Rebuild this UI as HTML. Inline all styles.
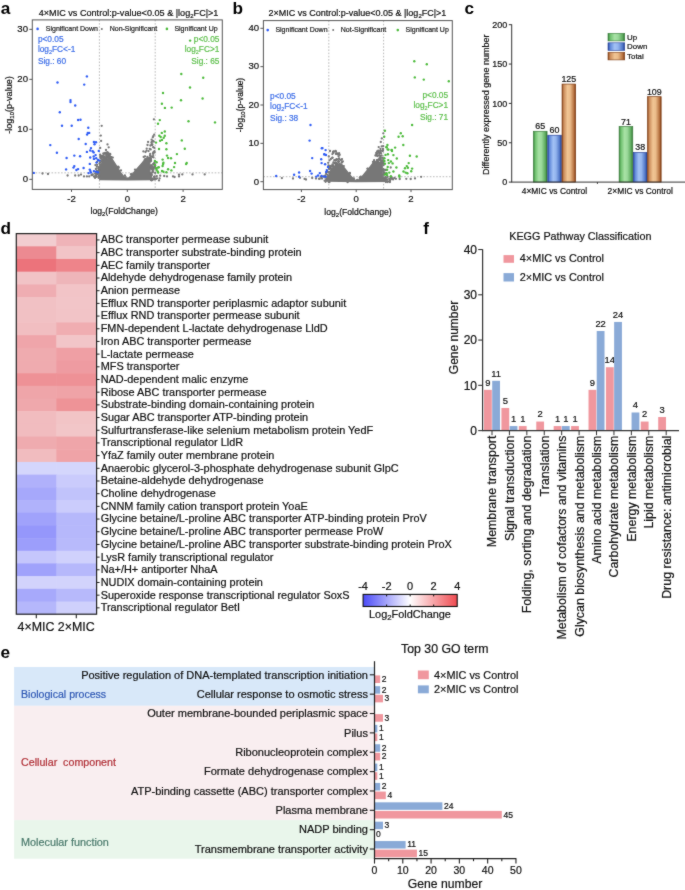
<!DOCTYPE html>
<html><head><meta charset="utf-8"><style>
html,body{margin:0;padding:0;background:#fff;}
svg{display:block;font-family:"Liberation Sans", sans-serif;}
</style></head><body>
<svg width="685" height="890" viewBox="0 0 685 890">
<defs>
<linearGradient id="gG" x1="0" x2="1" y1="0" y2="0">
<stop offset="0" stop-color="#2f7a32"/><stop offset="0.12" stop-color="#6cbf6c"/><stop offset="0.4" stop-color="#a8e2a5"/><stop offset="0.6" stop-color="#9ad89a"/><stop offset="0.88" stop-color="#5ba95c"/><stop offset="1" stop-color="#2d6e2f"/>
</linearGradient>
<linearGradient id="gB" x1="0" x2="1" y1="0" y2="0">
<stop offset="0" stop-color="#23409a"/><stop offset="0.12" stop-color="#5d86d8"/><stop offset="0.4" stop-color="#a3c2f5"/><stop offset="0.6" stop-color="#93b4ee"/><stop offset="0.88" stop-color="#4e74c6"/><stop offset="1" stop-color="#1f3a8a"/>
</linearGradient>
<linearGradient id="gO" x1="0" x2="1" y1="0" y2="0">
<stop offset="0" stop-color="#8a4518"/><stop offset="0.12" stop-color="#c98a5a"/><stop offset="0.4" stop-color="#f1c594"/><stop offset="0.6" stop-color="#eabb8a"/><stop offset="0.88" stop-color="#b5703f"/><stop offset="1" stop-color="#7a3810"/>
</linearGradient>
<linearGradient id="gCB" x1="0" x2="1" y1="0" y2="0">
<stop offset="0" stop-color="#4b4bf7"/><stop offset="0.5" stop-color="#ffffff"/><stop offset="1" stop-color="#ef4a50"/>
</linearGradient>
<filter id="soft" color-interpolation-filters="sRGB" x="0" y="0" width="685" height="890" filterUnits="userSpaceOnUse"><feConvolveMatrix order="3" kernelMatrix="1 2 1 2 24 2 1 2 1" edgeMode="duplicate" preserveAlpha="true"/></filter>
</defs>
<g filter="url(#soft)">
<rect x="0" y="0" width="685" height="890" fill="#fff"/>
<text x="0.8" y="14.3" font-size="17.2" font-weight="bold" fill="#000">a</text>
<text x="128.6" y="15.9" font-size="9.1" text-anchor="middle" fill="#111" stroke="#111" stroke-width="0.2">4×MIC vs Control:p-value&lt;0.05 &amp; |log<tspan font-size="6" dy="2">2</tspan><tspan dy="-2">FC|&gt;1</tspan></text>
<line x1="99.4" y1="19.9" x2="99.4" y2="189.4" stroke="#a8a8a8" stroke-width="0.8" stroke-dasharray="1.6,1.6"/>
<line x1="155.2" y1="19.9" x2="155.2" y2="189.4" stroke="#a8a8a8" stroke-width="0.8" stroke-dasharray="1.6,1.6"/>
<line x1="32.3" y1="172.845" x2="222.3" y2="172.845" stroke="#a8a8a8" stroke-width="0.8" stroke-dasharray="1.6,1.6"/>
<polygon points="99.1,180.3 99.1,164.2 101.0,163.5 102.5,160.0 104.0,158.0 107.0,158.5 110.0,157.0 112.5,158.4 115.4,163.0 118.4,167.7 121.3,172.4 124.2,175.9 127.1,178.6 130.0,175.9 134.7,170.6 141.5,162.7 145.3,158.1 148.0,156.8 149.9,158.1 150.5,165.0 150.7,176.5 153.0,178.5 156.0,180.2 127.1,180.6" fill="#777777"/>
<circle cx="97.1" cy="164.9" r="1.15" fill="#777777"/>
<circle cx="109.1" cy="156.2" r="1.15" fill="#777777"/>
<circle cx="153.3" cy="168.3" r="1.15" fill="#777777"/>
<circle cx="151.6" cy="180.4" r="1.15" fill="#777777"/>
<circle cx="150.2" cy="153.9" r="1.15" fill="#777777"/>
<circle cx="152.6" cy="170.9" r="1.15" fill="#777777"/>
<circle cx="108.3" cy="156.0" r="1.15" fill="#777777"/>
<circle cx="150.0" cy="155.5" r="1.15" fill="#777777"/>
<circle cx="100.3" cy="157.2" r="1.15" fill="#777777"/>
<circle cx="98.9" cy="176.0" r="1.15" fill="#777777"/>
<circle cx="150.6" cy="161.3" r="1.15" fill="#777777"/>
<circle cx="102.3" cy="160.3" r="1.15" fill="#777777"/>
<circle cx="150.7" cy="166.6" r="1.15" fill="#777777"/>
<circle cx="155.0" cy="164.3" r="1.15" fill="#777777"/>
<circle cx="108.0" cy="157.4" r="1.15" fill="#777777"/>
<circle cx="127.1" cy="178.3" r="1.15" fill="#777777"/>
<circle cx="106.8" cy="156.7" r="1.15" fill="#777777"/>
<circle cx="103.2" cy="157.8" r="1.15" fill="#777777"/>
<circle cx="151.4" cy="175.2" r="1.15" fill="#777777"/>
<circle cx="95.9" cy="169.0" r="1.15" fill="#777777"/>
<circle cx="97.1" cy="173.6" r="1.15" fill="#777777"/>
<circle cx="100.4" cy="156.2" r="1.15" fill="#777777"/>
<circle cx="98.5" cy="177.8" r="1.15" fill="#777777"/>
<circle cx="156.1" cy="178.8" r="1.15" fill="#777777"/>
<circle cx="107.3" cy="152.4" r="1.15" fill="#777777"/>
<circle cx="98.7" cy="173.9" r="1.15" fill="#777777"/>
<circle cx="99.0" cy="177.1" r="1.15" fill="#777777"/>
<circle cx="151.0" cy="160.7" r="1.15" fill="#777777"/>
<circle cx="150.1" cy="158.1" r="1.15" fill="#777777"/>
<circle cx="135.0" cy="169.7" r="1.15" fill="#777777"/>
<circle cx="100.1" cy="154.6" r="1.15" fill="#777777"/>
<circle cx="96.9" cy="166.8" r="1.15" fill="#777777"/>
<circle cx="118.4" cy="167.1" r="1.15" fill="#777777"/>
<circle cx="131.2" cy="174.2" r="1.15" fill="#777777"/>
<circle cx="118.1" cy="166.7" r="1.15" fill="#777777"/>
<circle cx="106.9" cy="154.5" r="1.15" fill="#777777"/>
<circle cx="104.7" cy="156.4" r="1.15" fill="#777777"/>
<circle cx="151.1" cy="168.8" r="1.15" fill="#777777"/>
<circle cx="102.9" cy="155.8" r="1.15" fill="#777777"/>
<circle cx="151.1" cy="176.3" r="1.15" fill="#777777"/>
<circle cx="150.4" cy="160.5" r="1.15" fill="#777777"/>
<circle cx="118.7" cy="167.7" r="1.15" fill="#777777"/>
<circle cx="101.5" cy="161.7" r="1.15" fill="#777777"/>
<circle cx="151.0" cy="165.5" r="1.15" fill="#777777"/>
<circle cx="154.0" cy="176.9" r="1.15" fill="#777777"/>
<circle cx="151.0" cy="168.2" r="1.15" fill="#777777"/>
<circle cx="151.7" cy="174.9" r="1.15" fill="#777777"/>
<circle cx="103.9" cy="158.0" r="1.15" fill="#777777"/>
<circle cx="106.3" cy="157.8" r="1.15" fill="#777777"/>
<circle cx="150.7" cy="174.4" r="1.15" fill="#777777"/>
<circle cx="106.7" cy="158.4" r="1.15" fill="#777777"/>
<circle cx="152.0" cy="168.1" r="1.15" fill="#777777"/>
<circle cx="155.5" cy="178.8" r="1.15" fill="#777777"/>
<circle cx="98.6" cy="170.7" r="1.15" fill="#777777"/>
<circle cx="99.0" cy="169.8" r="1.15" fill="#777777"/>
<circle cx="152.5" cy="156.9" r="1.15" fill="#777777"/>
<circle cx="150.3" cy="161.3" r="1.15" fill="#777777"/>
<circle cx="130.9" cy="174.3" r="1.15" fill="#777777"/>
<circle cx="150.8" cy="167.3" r="1.15" fill="#777777"/>
<circle cx="154.7" cy="167.5" r="1.15" fill="#777777"/>
<circle cx="159.0" cy="180.4" r="1.15" fill="#777777"/>
<circle cx="109.9" cy="156.3" r="1.15" fill="#777777"/>
<circle cx="121.0" cy="170.4" r="1.15" fill="#777777"/>
<circle cx="97.1" cy="162.0" r="1.15" fill="#777777"/>
<circle cx="110.5" cy="157.1" r="1.15" fill="#777777"/>
<circle cx="149.8" cy="157.8" r="1.15" fill="#777777"/>
<circle cx="154.7" cy="176.4" r="1.15" fill="#777777"/>
<circle cx="103.7" cy="156.8" r="1.15" fill="#777777"/>
<circle cx="98.0" cy="172.8" r="1.15" fill="#777777"/>
<circle cx="155.2" cy="172.9" r="1.15" fill="#777777"/>
<circle cx="124.9" cy="175.5" r="1.15" fill="#777777"/>
<circle cx="125.7" cy="177.1" r="1.15" fill="#777777"/>
<circle cx="101.2" cy="155.8" r="1.15" fill="#777777"/>
<circle cx="96.5" cy="176.2" r="1.15" fill="#777777"/>
<circle cx="97.0" cy="170.9" r="1.15" fill="#777777"/>
<circle cx="150.7" cy="158.1" r="1.15" fill="#777777"/>
<circle cx="99.5" cy="163.6" r="1.15" fill="#777777"/>
<circle cx="95.4" cy="165.1" r="1.15" fill="#777777"/>
<circle cx="153.3" cy="164.1" r="1.15" fill="#777777"/>
<circle cx="98.9" cy="167.2" r="1.15" fill="#777777"/>
<circle cx="151.4" cy="173.8" r="1.15" fill="#777777"/>
<circle cx="147.4" cy="156.8" r="1.15" fill="#777777"/>
<circle cx="150.7" cy="159.6" r="1.15" fill="#777777"/>
<circle cx="150.7" cy="174.0" r="1.15" fill="#777777"/>
<circle cx="151.3" cy="168.5" r="1.15" fill="#777777"/>
<circle cx="98.3" cy="168.6" r="1.15" fill="#777777"/>
<circle cx="102.3" cy="159.6" r="1.15" fill="#777777"/>
<circle cx="150.9" cy="159.1" r="1.15" fill="#777777"/>
<circle cx="150.9" cy="174.5" r="1.15" fill="#777777"/>
<circle cx="95.2" cy="173.5" r="1.15" fill="#777777"/>
<circle cx="107.1" cy="156.8" r="1.15" fill="#777777"/>
<circle cx="105.5" cy="157.9" r="1.15" fill="#777777"/>
<circle cx="108.3" cy="154.3" r="1.15" fill="#777777"/>
<circle cx="101.5" cy="157.2" r="1.15" fill="#777777"/>
<circle cx="106.3" cy="155.8" r="1.15" fill="#777777"/>
<circle cx="102.3" cy="156.5" r="1.15" fill="#777777"/>
<circle cx="103.7" cy="153.9" r="1.15" fill="#777777"/>
<circle cx="110.5" cy="158.0" r="1.15" fill="#777777"/>
<circle cx="106.1" cy="154.0" r="1.15" fill="#777777"/>
<circle cx="110.1" cy="154.0" r="1.15" fill="#777777"/>
<circle cx="103.5" cy="158.5" r="1.15" fill="#777777"/>
<circle cx="109.0" cy="154.8" r="1.15" fill="#777777"/>
<circle cx="104.8" cy="153.5" r="1.15" fill="#777777"/>
<circle cx="102.1" cy="155.9" r="1.15" fill="#777777"/>
<circle cx="106.3" cy="152.8" r="1.15" fill="#777777"/>
<circle cx="111.2" cy="157.4" r="1.15" fill="#777777"/>
<circle cx="111.4" cy="157.5" r="1.15" fill="#777777"/>
<circle cx="101.1" cy="158.5" r="1.15" fill="#777777"/>
<circle cx="107.1" cy="154.1" r="1.15" fill="#777777"/>
<circle cx="108.3" cy="156.2" r="1.15" fill="#777777"/>
<circle cx="111.3" cy="157.3" r="1.15" fill="#777777"/>
<circle cx="100.1" cy="162.6" r="1.15" fill="#777777"/>
<circle cx="107.5" cy="152.4" r="1.15" fill="#777777"/>
<circle cx="104.4" cy="159.3" r="1.15" fill="#777777"/>
<circle cx="112.8" cy="157.6" r="1.15" fill="#777777"/>
<circle cx="109.1" cy="154.1" r="1.15" fill="#777777"/>
<circle cx="105.2" cy="152.8" r="1.15" fill="#777777"/>
<circle cx="108.4" cy="153.1" r="1.15" fill="#777777"/>
<circle cx="102.5" cy="157.2" r="1.15" fill="#777777"/>
<circle cx="110.1" cy="157.0" r="1.15" fill="#777777"/>
<circle cx="100.5" cy="160.6" r="1.15" fill="#777777"/>
<circle cx="110.2" cy="154.5" r="1.15" fill="#777777"/>
<circle cx="106.6" cy="153.3" r="1.15" fill="#777777"/>
<circle cx="103.4" cy="153.4" r="1.15" fill="#777777"/>
<circle cx="151.7" cy="141.9" r="1.15" fill="#777777"/>
<circle cx="152.9" cy="140.8" r="1.15" fill="#777777"/>
<circle cx="152.7" cy="171.4" r="1.15" fill="#777777"/>
<circle cx="153.5" cy="157.3" r="1.15" fill="#777777"/>
<circle cx="153.1" cy="155.1" r="1.15" fill="#777777"/>
<circle cx="150.6" cy="159.0" r="1.15" fill="#777777"/>
<circle cx="152.8" cy="137.3" r="1.15" fill="#777777"/>
<circle cx="143.7" cy="156.9" r="1.15" fill="#777777"/>
<circle cx="146.6" cy="150.7" r="1.15" fill="#777777"/>
<circle cx="153.0" cy="153.2" r="1.15" fill="#777777"/>
<circle cx="145.5" cy="152.0" r="1.15" fill="#777777"/>
<circle cx="149.7" cy="148.8" r="1.15" fill="#777777"/>
<circle cx="153.5" cy="169.6" r="1.15" fill="#777777"/>
<circle cx="144.8" cy="159.5" r="1.15" fill="#777777"/>
<circle cx="155.0" cy="166.3" r="1.15" fill="#777777"/>
<circle cx="150.4" cy="155.8" r="1.15" fill="#777777"/>
<circle cx="148.6" cy="151.1" r="1.15" fill="#777777"/>
<circle cx="154.3" cy="164.8" r="1.15" fill="#777777"/>
<circle cx="152.8" cy="172.3" r="1.15" fill="#777777"/>
<circle cx="153.3" cy="164.1" r="1.15" fill="#777777"/>
<circle cx="153.5" cy="152.1" r="1.15" fill="#777777"/>
<circle cx="153.8" cy="141.6" r="1.15" fill="#777777"/>
<circle cx="154.6" cy="152.6" r="1.15" fill="#777777"/>
<circle cx="151.7" cy="144.6" r="1.15" fill="#777777"/>
<circle cx="146.7" cy="148.6" r="1.15" fill="#777777"/>
<circle cx="151.0" cy="173.2" r="1.15" fill="#777777"/>
<circle cx="152.4" cy="169.1" r="1.15" fill="#777777"/>
<circle cx="155.2" cy="165.6" r="1.15" fill="#777777"/>
<circle cx="154.3" cy="147.8" r="1.15" fill="#777777"/>
<circle cx="152.5" cy="166.5" r="1.15" fill="#777777"/>
<circle cx="153.9" cy="167.4" r="1.15" fill="#777777"/>
<circle cx="153.2" cy="147.2" r="1.15" fill="#777777"/>
<circle cx="150.7" cy="149.4" r="1.15" fill="#777777"/>
<circle cx="145.0" cy="156.3" r="1.15" fill="#777777"/>
<circle cx="151.0" cy="156.6" r="1.15" fill="#777777"/>
<circle cx="154.5" cy="151.1" r="1.15" fill="#777777"/>
<circle cx="154.2" cy="163.0" r="1.15" fill="#777777"/>
<circle cx="154.2" cy="134.6" r="1.15" fill="#777777"/>
<circle cx="151.5" cy="165.3" r="1.15" fill="#777777"/>
<circle cx="152.3" cy="144.4" r="1.15" fill="#777777"/>
<circle cx="151.5" cy="142.8" r="1.15" fill="#777777"/>
<circle cx="150.9" cy="158.8" r="1.15" fill="#777777"/>
<circle cx="96.6" cy="176.8" r="1.15" fill="#777777"/>
<circle cx="96.9" cy="174.4" r="1.15" fill="#777777"/>
<circle cx="92.1" cy="174.9" r="1.15" fill="#777777"/>
<circle cx="96.8" cy="174.2" r="1.15" fill="#777777"/>
<circle cx="97.4" cy="173.4" r="1.15" fill="#777777"/>
<circle cx="92.7" cy="174.4" r="1.15" fill="#777777"/>
<circle cx="94.9" cy="177.5" r="1.15" fill="#777777"/>
<circle cx="95.1" cy="177.8" r="1.15" fill="#777777"/>
<circle cx="151.1" cy="179.7" r="1.15" fill="#777777"/>
<circle cx="154.1" cy="179.2" r="1.15" fill="#777777"/>
<circle cx="150.4" cy="179.1" r="1.15" fill="#777777"/>
<circle cx="152.7" cy="179.3" r="1.15" fill="#777777"/>
<circle cx="159.6" cy="178.4" r="1.15" fill="#777777"/>
<circle cx="152.3" cy="179.5" r="1.15" fill="#777777"/>
<circle cx="151.9" cy="178.3" r="1.15" fill="#777777"/>
<circle cx="157.0" cy="178.3" r="1.15" fill="#777777"/>
<circle cx="151.2" cy="179.9" r="1.15" fill="#777777"/>
<circle cx="154.6" cy="178.3" r="1.15" fill="#777777"/>
<circle cx="156.8" cy="176.1" r="1.15" fill="#777777"/>
<circle cx="160.2" cy="175.7" r="1.15" fill="#777777"/>
<circle cx="101.7" cy="125.8" r="1.15" fill="#777777"/>
<circle cx="100.8" cy="135.6" r="1.15" fill="#777777"/>
<circle cx="101.1" cy="140.9" r="1.15" fill="#777777"/>
<circle cx="107.5" cy="144.4" r="1.15" fill="#777777"/>
<circle cx="108.7" cy="147.3" r="1.15" fill="#777777"/>
<circle cx="106.0" cy="150.0" r="1.15" fill="#777777"/>
<circle cx="100.2" cy="147.9" r="1.15" fill="#777777"/>
<circle cx="153.9" cy="119.3" r="1.15" fill="#777777"/>
<circle cx="153.3" cy="136.2" r="1.15" fill="#777777"/>
<circle cx="151.6" cy="139.7" r="1.15" fill="#777777"/>
<circle cx="148.1" cy="142.0" r="1.15" fill="#777777"/>
<circle cx="147.5" cy="145.0" r="1.15" fill="#777777"/>
<circle cx="150.4" cy="145.5" r="1.15" fill="#777777"/>
<circle cx="152.1" cy="145.0" r="1.15" fill="#777777"/>
<circle cx="143.4" cy="151.4" r="1.15" fill="#777777"/>
<circle cx="42.5" cy="173.5" r="1.15" fill="#777777"/>
<circle cx="48.0" cy="174.0" r="1.15" fill="#777777"/>
<circle cx="67.6" cy="175.5" r="1.15" fill="#777777"/>
<circle cx="75.2" cy="175.5" r="1.15" fill="#777777"/>
<circle cx="78.7" cy="175.5" r="1.15" fill="#777777"/>
<circle cx="81.0" cy="174.6" r="1.15" fill="#777777"/>
<circle cx="84.0" cy="176.4" r="1.15" fill="#777777"/>
<circle cx="86.9" cy="176.4" r="1.15" fill="#777777"/>
<circle cx="89.2" cy="176.4" r="1.15" fill="#777777"/>
<circle cx="91.5" cy="175.2" r="1.15" fill="#777777"/>
<circle cx="93.9" cy="176.4" r="1.15" fill="#777777"/>
<circle cx="95.5" cy="175.5" r="1.15" fill="#777777"/>
<circle cx="164.2" cy="176.0" r="1.15" fill="#777777"/>
<circle cx="167.0" cy="176.4" r="1.15" fill="#777777"/>
<circle cx="173.0" cy="176.4" r="1.15" fill="#777777"/>
<circle cx="174.6" cy="177.0" r="1.15" fill="#777777"/>
<circle cx="179.0" cy="174.7" r="1.15" fill="#777777"/>
<circle cx="179.0" cy="176.4" r="1.15" fill="#777777"/>
<circle cx="182.3" cy="174.4" r="1.15" fill="#777777"/>
<circle cx="192.5" cy="174.4" r="1.15" fill="#777777"/>
<circle cx="204.7" cy="174.4" r="1.15" fill="#777777"/>
<circle cx="57.5" cy="82.5" r="1.2" fill="#2f5cf5"/>
<circle cx="84.2" cy="84.6" r="1.2" fill="#2f5cf5"/>
<circle cx="86.9" cy="76.4" r="1.2" fill="#2f5cf5"/>
<circle cx="70.5" cy="100.1" r="1.2" fill="#2f5cf5"/>
<circle cx="70.5" cy="102.0" r="1.2" fill="#2f5cf5"/>
<circle cx="75.2" cy="105.5" r="1.2" fill="#2f5cf5"/>
<circle cx="59.8" cy="112.3" r="1.2" fill="#2f5cf5"/>
<circle cx="78.1" cy="120.0" r="1.2" fill="#2f5cf5"/>
<circle cx="80.5" cy="119.8" r="1.2" fill="#2f5cf5"/>
<circle cx="62.0" cy="125.8" r="1.2" fill="#2f5cf5"/>
<circle cx="71.7" cy="125.8" r="1.2" fill="#2f5cf5"/>
<circle cx="88.3" cy="127.8" r="1.2" fill="#2f5cf5"/>
<circle cx="87.8" cy="132.9" r="1.2" fill="#2f5cf5"/>
<circle cx="89.2" cy="132.9" r="1.2" fill="#2f5cf5"/>
<circle cx="87.1" cy="134.6" r="1.2" fill="#2f5cf5"/>
<circle cx="78.7" cy="139.0" r="1.2" fill="#2f5cf5"/>
<circle cx="50.3" cy="145.1" r="1.2" fill="#2f5cf5"/>
<circle cx="85.7" cy="144.0" r="1.2" fill="#2f5cf5"/>
<circle cx="93.9" cy="141.9" r="1.2" fill="#2f5cf5"/>
<circle cx="96.0" cy="142.3" r="1.2" fill="#2f5cf5"/>
<circle cx="94.5" cy="144.3" r="1.2" fill="#2f5cf5"/>
<circle cx="56.9" cy="152.8" r="1.2" fill="#2f5cf5"/>
<circle cx="91.0" cy="148.1" r="1.2" fill="#2f5cf5"/>
<circle cx="86.9" cy="151.9" r="1.2" fill="#2f5cf5"/>
<circle cx="90.2" cy="150.5" r="1.2" fill="#2f5cf5"/>
<circle cx="92.7" cy="151.3" r="1.2" fill="#2f5cf5"/>
<circle cx="93.7" cy="152.4" r="1.2" fill="#2f5cf5"/>
<circle cx="98.8" cy="150.9" r="1.2" fill="#2f5cf5"/>
<circle cx="66.6" cy="158.0" r="1.2" fill="#2f5cf5"/>
<circle cx="74.3" cy="155.6" r="1.2" fill="#2f5cf5"/>
<circle cx="80.1" cy="156.3" r="1.2" fill="#2f5cf5"/>
<circle cx="90.2" cy="157.5" r="1.2" fill="#2f5cf5"/>
<circle cx="93.7" cy="156.5" r="1.2" fill="#2f5cf5"/>
<circle cx="95.6" cy="155.1" r="1.2" fill="#2f5cf5"/>
<circle cx="93.9" cy="158.9" r="1.2" fill="#2f5cf5"/>
<circle cx="96.2" cy="158.3" r="1.2" fill="#2f5cf5"/>
<circle cx="98.0" cy="160.0" r="1.2" fill="#2f5cf5"/>
<circle cx="99.2" cy="160.6" r="1.2" fill="#2f5cf5"/>
<circle cx="96.5" cy="162.6" r="1.2" fill="#2f5cf5"/>
<circle cx="89.8" cy="163.9" r="1.2" fill="#2f5cf5"/>
<circle cx="74.3" cy="166.1" r="1.2" fill="#2f5cf5"/>
<circle cx="73.5" cy="167.6" r="1.2" fill="#2f5cf5"/>
<circle cx="66.1" cy="169.4" r="1.2" fill="#2f5cf5"/>
<circle cx="76.4" cy="170.0" r="1.2" fill="#2f5cf5"/>
<circle cx="78.1" cy="169.1" r="1.2" fill="#2f5cf5"/>
<circle cx="83.6" cy="168.0" r="1.2" fill="#2f5cf5"/>
<circle cx="89.8" cy="169.6" r="1.2" fill="#2f5cf5"/>
<circle cx="90.4" cy="171.1" r="1.2" fill="#2f5cf5"/>
<circle cx="93.9" cy="171.1" r="1.2" fill="#2f5cf5"/>
<circle cx="96.0" cy="171.7" r="1.2" fill="#2f5cf5"/>
<circle cx="98.0" cy="172.3" r="1.2" fill="#2f5cf5"/>
<circle cx="88.6" cy="173.1" r="1.2" fill="#2f5cf5"/>
<circle cx="91.0" cy="172.6" r="1.2" fill="#2f5cf5"/>
<circle cx="33.8" cy="172.9" r="1.2" fill="#2f5cf5"/>
<circle cx="190.1" cy="40.6" r="1.2" fill="#4dbb3c"/>
<circle cx="181.3" cy="74.0" r="1.2" fill="#4dbb3c"/>
<circle cx="203.2" cy="77.7" r="1.2" fill="#4dbb3c"/>
<circle cx="190.0" cy="87.5" r="1.2" fill="#4dbb3c"/>
<circle cx="163.0" cy="93.0" r="1.2" fill="#4dbb3c"/>
<circle cx="202.6" cy="98.5" r="1.2" fill="#4dbb3c"/>
<circle cx="181.0" cy="100.3" r="1.2" fill="#4dbb3c"/>
<circle cx="161.9" cy="103.7" r="1.2" fill="#4dbb3c"/>
<circle cx="164.9" cy="107.9" r="1.2" fill="#4dbb3c"/>
<circle cx="171.7" cy="107.6" r="1.2" fill="#4dbb3c"/>
<circle cx="159.8" cy="120.1" r="1.2" fill="#4dbb3c"/>
<circle cx="158.0" cy="123.7" r="1.2" fill="#4dbb3c"/>
<circle cx="188.5" cy="121.3" r="1.2" fill="#4dbb3c"/>
<circle cx="215.0" cy="122.4" r="1.2" fill="#4dbb3c"/>
<circle cx="164.8" cy="131.5" r="1.2" fill="#4dbb3c"/>
<circle cx="161.8" cy="132.9" r="1.2" fill="#4dbb3c"/>
<circle cx="159.3" cy="135.7" r="1.2" fill="#4dbb3c"/>
<circle cx="160.7" cy="137.0" r="1.2" fill="#4dbb3c"/>
<circle cx="164.8" cy="135.7" r="1.2" fill="#4dbb3c"/>
<circle cx="163.7" cy="137.7" r="1.2" fill="#4dbb3c"/>
<circle cx="162.0" cy="139.9" r="1.2" fill="#4dbb3c"/>
<circle cx="160.1" cy="140.8" r="1.2" fill="#4dbb3c"/>
<circle cx="181.8" cy="140.4" r="1.2" fill="#4dbb3c"/>
<circle cx="156.0" cy="142.6" r="1.2" fill="#4dbb3c"/>
<circle cx="166.4" cy="143.2" r="1.2" fill="#4dbb3c"/>
<circle cx="159.0" cy="149.0" r="1.2" fill="#4dbb3c"/>
<circle cx="166.4" cy="149.3" r="1.2" fill="#4dbb3c"/>
<circle cx="184.8" cy="148.8" r="1.2" fill="#4dbb3c"/>
<circle cx="176.9" cy="154.1" r="1.2" fill="#4dbb3c"/>
<circle cx="167.0" cy="155.6" r="1.2" fill="#4dbb3c"/>
<circle cx="168.1" cy="158.0" r="1.2" fill="#4dbb3c"/>
<circle cx="171.0" cy="158.3" r="1.2" fill="#4dbb3c"/>
<circle cx="162.6" cy="159.6" r="1.2" fill="#4dbb3c"/>
<circle cx="154.9" cy="161.0" r="1.2" fill="#4dbb3c"/>
<circle cx="156.6" cy="162.2" r="1.2" fill="#4dbb3c"/>
<circle cx="163.4" cy="162.7" r="1.2" fill="#4dbb3c"/>
<circle cx="163.1" cy="164.0" r="1.2" fill="#4dbb3c"/>
<circle cx="175.0" cy="163.0" r="1.2" fill="#4dbb3c"/>
<circle cx="186.7" cy="163.0" r="1.2" fill="#4dbb3c"/>
<circle cx="186.1" cy="164.1" r="1.2" fill="#4dbb3c"/>
<circle cx="154.9" cy="164.9" r="1.2" fill="#4dbb3c"/>
<circle cx="162.6" cy="166.0" r="1.2" fill="#4dbb3c"/>
<circle cx="174.1" cy="167.1" r="1.2" fill="#4dbb3c"/>
<circle cx="156.0" cy="168.2" r="1.2" fill="#4dbb3c"/>
<circle cx="157.7" cy="167.6" r="1.2" fill="#4dbb3c"/>
<circle cx="158.8" cy="167.3" r="1.2" fill="#4dbb3c"/>
<circle cx="156.6" cy="169.8" r="1.2" fill="#4dbb3c"/>
<circle cx="168.1" cy="169.3" r="1.2" fill="#4dbb3c"/>
<circle cx="171.4" cy="170.4" r="1.2" fill="#4dbb3c"/>
<circle cx="157.7" cy="171.5" r="1.2" fill="#4dbb3c"/>
<circle cx="162.0" cy="170.9" r="1.2" fill="#4dbb3c"/>
<circle cx="163.4" cy="171.7" r="1.2" fill="#4dbb3c"/>
<circle cx="166.4" cy="172.3" r="1.2" fill="#4dbb3c"/>
<circle cx="158.2" cy="172.6" r="1.2" fill="#4dbb3c"/>
<rect x="32.3" y="19.9" width="190.0" height="169.5" fill="none" stroke="#555" stroke-width="1"/>
<line x1="29.299999999999997" y1="179.35" x2="32.3" y2="179.35" stroke="#555" stroke-width="1"/>
<text x="27.999999999999996" y="182.15" font-size="9.6" text-anchor="end" fill="#111" stroke="#111" stroke-width="0.2">0</text>
<line x1="29.299999999999997" y1="129.35" x2="32.3" y2="129.35" stroke="#555" stroke-width="1"/>
<text x="27.999999999999996" y="132.15" font-size="9.6" text-anchor="end" fill="#111" stroke="#111" stroke-width="0.2">10</text>
<line x1="29.299999999999997" y1="79.35" x2="32.3" y2="79.35" stroke="#555" stroke-width="1"/>
<text x="27.999999999999996" y="82.14999999999999" font-size="9.6" text-anchor="end" fill="#111" stroke="#111" stroke-width="0.2">20</text>
<line x1="29.299999999999997" y1="29.349999999999994" x2="32.3" y2="29.349999999999994" stroke="#555" stroke-width="1"/>
<text x="27.999999999999996" y="32.14999999999999" font-size="9.6" text-anchor="end" fill="#111" stroke="#111" stroke-width="0.2">30</text>
<line x1="71.5" y1="189.4" x2="71.5" y2="191.9" stroke="#555" stroke-width="1"/>
<text x="71.5" y="202.2" font-size="9.6" text-anchor="middle" fill="#111" stroke="#111" stroke-width="0.2">-2</text>
<line x1="127.3" y1="189.4" x2="127.3" y2="191.9" stroke="#555" stroke-width="1"/>
<text x="127.3" y="202.2" font-size="9.6" text-anchor="middle" fill="#111" stroke="#111" stroke-width="0.2">0</text>
<line x1="183.1" y1="189.4" x2="183.1" y2="191.9" stroke="#555" stroke-width="1"/>
<text x="183.1" y="202.2" font-size="9.6" text-anchor="middle" fill="#111" stroke="#111" stroke-width="0.2">2</text>
<text x="124.2" y="214" font-size="8.6" text-anchor="middle" fill="#111" stroke="#111" stroke-width="0.2">log<tspan font-size="6" dy="2">2</tspan><tspan dy="-2">(FoldChange)</tspan></text>
<text x="11.7" y="105" font-size="9.05" text-anchor="middle" fill="#111" stroke="#111" stroke-width="0.2" transform="rotate(-90 11.7 105)">-log<tspan font-size="6" dy="2">10</tspan><tspan dy="-2">(p-value)</tspan></text>
<circle cx="37.6" cy="28.9" r="1.3" fill="#2f5cf5"/>
<text x="45.8" y="31.2" font-size="7" fill="#222" stroke="#222" stroke-width="0.2">Significant Down</text>
<circle cx="101.8" cy="28.9" r="1.0" fill="#777777"/>
<text x="109.7" y="31.2" font-size="7" fill="#222" stroke="#222" stroke-width="0.2">Non-Significant</text>
<circle cx="166.9" cy="28.9" r="1.3" fill="#4dbb3c"/>
<text x="174.4" y="31.2" font-size="7" fill="#222" stroke="#222" stroke-width="0.2">Significant Up</text>
<text x="37.9" y="42.1" font-size="8.3" fill="#3d6ee8" stroke="#3d6ee8" stroke-width="0.2">p&lt;0.05</text>
<text x="37.9" y="52.2" font-size="8.3" fill="#3d6ee8" stroke="#3d6ee8" stroke-width="0.2">log<tspan font-size="5.5" dy="2">2</tspan><tspan dy="-2">FC&lt;-1</tspan></text>
<text x="37.9" y="64.0" font-size="8.3" fill="#3d6ee8" stroke="#3d6ee8" stroke-width="0.2">Sig.: 60</text>
<text x="219.4" y="41.7" font-size="8.3" text-anchor="end" fill="#5cbf4a" stroke="#5cbf4a" stroke-width="0.2">p&lt;0.05</text>
<text x="219.4" y="51.800000000000004" font-size="8.3" text-anchor="end" fill="#5cbf4a" stroke="#5cbf4a" stroke-width="0.2">log<tspan font-size="5.5" dy="2">2</tspan><tspan dy="-2">FC&gt;1</tspan></text>
<text x="219.4" y="63.6" font-size="8.3" text-anchor="end" fill="#5cbf4a" stroke="#5cbf4a" stroke-width="0.2">Sig.: 65</text>
<text x="232.5" y="14.3" font-size="17.2" font-weight="bold" fill="#000">b</text>
<text x="357.4" y="15.9" font-size="9.0" text-anchor="middle" fill="#111" stroke="#111" stroke-width="0.2">2×MIC vs Control:p-value&lt;0.05 &amp; |log<tspan font-size="6" dy="2">2</tspan><tspan dy="-2">FC|&gt;1</tspan></text>
<line x1="328.8" y1="20.6" x2="328.8" y2="189.6" stroke="#a8a8a8" stroke-width="0.8" stroke-dasharray="1.6,1.6"/>
<line x1="383.59999999999997" y1="20.6" x2="383.59999999999997" y2="189.6" stroke="#a8a8a8" stroke-width="0.8" stroke-dasharray="1.6,1.6"/>
<line x1="263.4" y1="176.71066499999998" x2="452.3" y2="176.71066499999998" stroke="#a8a8a8" stroke-width="0.8" stroke-dasharray="1.6,1.6"/>
<polygon points="325.0,181.7 325.0,179.5 328.8,174.2 330.7,168.5 334.5,165.6 339.2,162.8 342.1,163.7 344.0,166.6 347.8,171.3 351.6,176.0 355.4,179.8 356.3,181.0 360.1,178.0 364.8,172.3 369.6,166.6 372.4,162.8 375.0,161.5 378.0,162.0 382.9,162.0 382.9,179.8 389.5,180.5 389.5,182.0 356.3,182.2" fill="#777777"/>
<circle cx="377.5" cy="159.9" r="1.15" fill="#777777"/>
<circle cx="335.8" cy="164.5" r="1.15" fill="#777777"/>
<circle cx="383.0" cy="160.2" r="1.15" fill="#777777"/>
<circle cx="349.8" cy="173.0" r="1.15" fill="#777777"/>
<circle cx="337.1" cy="164.0" r="1.15" fill="#777777"/>
<circle cx="327.3" cy="171.7" r="1.15" fill="#777777"/>
<circle cx="390.0" cy="180.3" r="1.15" fill="#777777"/>
<circle cx="387.2" cy="179.5" r="1.15" fill="#777777"/>
<circle cx="385.0" cy="170.0" r="1.15" fill="#777777"/>
<circle cx="381.6" cy="161.1" r="1.15" fill="#777777"/>
<circle cx="329.2" cy="169.0" r="1.15" fill="#777777"/>
<circle cx="335.4" cy="163.3" r="1.15" fill="#777777"/>
<circle cx="379.9" cy="160.0" r="1.15" fill="#777777"/>
<circle cx="385.9" cy="170.0" r="1.15" fill="#777777"/>
<circle cx="356.2" cy="180.6" r="1.15" fill="#777777"/>
<circle cx="384.0" cy="174.4" r="1.15" fill="#777777"/>
<circle cx="384.7" cy="179.8" r="1.15" fill="#777777"/>
<circle cx="377.0" cy="161.0" r="1.15" fill="#777777"/>
<circle cx="353.9" cy="178.3" r="1.15" fill="#777777"/>
<circle cx="329.0" cy="171.8" r="1.15" fill="#777777"/>
<circle cx="384.1" cy="179.1" r="1.15" fill="#777777"/>
<circle cx="359.8" cy="178.0" r="1.15" fill="#777777"/>
<circle cx="389.9" cy="182.0" r="1.15" fill="#777777"/>
<circle cx="327.5" cy="174.9" r="1.15" fill="#777777"/>
<circle cx="357.5" cy="180.0" r="1.15" fill="#777777"/>
<circle cx="383.8" cy="172.1" r="1.15" fill="#777777"/>
<circle cx="349.7" cy="173.3" r="1.15" fill="#777777"/>
<circle cx="329.8" cy="167.4" r="1.15" fill="#777777"/>
<circle cx="385.7" cy="174.1" r="1.15" fill="#777777"/>
<circle cx="385.9" cy="182.1" r="1.15" fill="#777777"/>
<circle cx="383.9" cy="178.4" r="1.15" fill="#777777"/>
<circle cx="384.4" cy="179.6" r="1.15" fill="#777777"/>
<circle cx="383.4" cy="169.2" r="1.15" fill="#777777"/>
<circle cx="383.6" cy="163.2" r="1.15" fill="#777777"/>
<circle cx="327.1" cy="171.1" r="1.15" fill="#777777"/>
<circle cx="378.5" cy="161.9" r="1.15" fill="#777777"/>
<circle cx="383.2" cy="178.5" r="1.15" fill="#777777"/>
<circle cx="324.6" cy="180.7" r="1.15" fill="#777777"/>
<circle cx="328.8" cy="172.7" r="1.15" fill="#777777"/>
<circle cx="360.8" cy="176.7" r="1.15" fill="#777777"/>
<circle cx="376.8" cy="161.5" r="1.15" fill="#777777"/>
<circle cx="377.4" cy="161.4" r="1.15" fill="#777777"/>
<circle cx="390.8" cy="179.3" r="1.15" fill="#777777"/>
<circle cx="374.2" cy="161.5" r="1.15" fill="#777777"/>
<circle cx="333.3" cy="166.0" r="1.15" fill="#777777"/>
<circle cx="326.3" cy="172.5" r="1.15" fill="#777777"/>
<circle cx="383.5" cy="177.7" r="1.15" fill="#777777"/>
<circle cx="335.2" cy="163.2" r="1.15" fill="#777777"/>
<circle cx="334.5" cy="163.1" r="1.15" fill="#777777"/>
<circle cx="383.0" cy="170.3" r="1.15" fill="#777777"/>
<circle cx="367.5" cy="168.8" r="1.15" fill="#777777"/>
<circle cx="381.0" cy="160.1" r="1.15" fill="#777777"/>
<circle cx="385.4" cy="177.2" r="1.15" fill="#777777"/>
<circle cx="335.4" cy="162.8" r="1.15" fill="#777777"/>
<circle cx="383.2" cy="179.1" r="1.15" fill="#777777"/>
<circle cx="319.8" cy="178.7" r="1.15" fill="#777777"/>
<circle cx="389.8" cy="179.0" r="1.15" fill="#777777"/>
<circle cx="360.0" cy="177.4" r="1.15" fill="#777777"/>
<circle cx="330.4" cy="168.7" r="1.15" fill="#777777"/>
<circle cx="381.3" cy="161.4" r="1.15" fill="#777777"/>
<circle cx="329.5" cy="182.1" r="1.15" fill="#777777"/>
<circle cx="383.4" cy="174.5" r="1.15" fill="#777777"/>
<circle cx="328.5" cy="165.5" r="1.15" fill="#777777"/>
<circle cx="343.8" cy="166.1" r="1.15" fill="#777777"/>
<circle cx="325.6" cy="181.8" r="1.15" fill="#777777"/>
<circle cx="384.1" cy="173.3" r="1.15" fill="#777777"/>
<circle cx="336.0" cy="159.9" r="1.15" fill="#777777"/>
<circle cx="347.6" cy="182.2" r="1.15" fill="#777777"/>
<circle cx="383.5" cy="165.2" r="1.15" fill="#777777"/>
<circle cx="326.1" cy="174.0" r="1.15" fill="#777777"/>
<circle cx="384.9" cy="178.8" r="1.15" fill="#777777"/>
<circle cx="349.8" cy="173.6" r="1.15" fill="#777777"/>
<circle cx="379.9" cy="158.8" r="1.15" fill="#777777"/>
<circle cx="387.6" cy="182.1" r="1.15" fill="#777777"/>
<circle cx="383.4" cy="177.3" r="1.15" fill="#777777"/>
<circle cx="328.2" cy="162.8" r="1.15" fill="#777777"/>
<circle cx="336.3" cy="162.8" r="1.15" fill="#777777"/>
<circle cx="328.8" cy="182.1" r="1.15" fill="#777777"/>
<circle cx="383.1" cy="174.7" r="1.15" fill="#777777"/>
<circle cx="385.2" cy="179.5" r="1.15" fill="#777777"/>
<circle cx="367.7" cy="168.6" r="1.15" fill="#777777"/>
<circle cx="325.1" cy="175.7" r="1.15" fill="#777777"/>
<circle cx="356.9" cy="180.5" r="1.15" fill="#777777"/>
<circle cx="332.1" cy="166.2" r="1.15" fill="#777777"/>
<circle cx="330.5" cy="167.7" r="1.15" fill="#777777"/>
<circle cx="330.5" cy="167.3" r="1.15" fill="#777777"/>
<circle cx="389.6" cy="181.8" r="1.15" fill="#777777"/>
<circle cx="384.5" cy="173.0" r="1.15" fill="#777777"/>
<circle cx="390.7" cy="167.5" r="1.15" fill="#777777"/>
<circle cx="385.2" cy="173.7" r="1.15" fill="#777777"/>
<circle cx="329.5" cy="160.3" r="1.15" fill="#777777"/>
<circle cx="342.8" cy="161.4" r="1.15" fill="#777777"/>
<circle cx="337.1" cy="153.4" r="1.15" fill="#777777"/>
<circle cx="333.5" cy="152.8" r="1.15" fill="#777777"/>
<circle cx="335.5" cy="150.9" r="1.15" fill="#777777"/>
<circle cx="338.3" cy="162.0" r="1.15" fill="#777777"/>
<circle cx="329.6" cy="166.1" r="1.15" fill="#777777"/>
<circle cx="335.9" cy="151.5" r="1.15" fill="#777777"/>
<circle cx="339.1" cy="153.2" r="1.15" fill="#777777"/>
<circle cx="342.0" cy="159.1" r="1.15" fill="#777777"/>
<circle cx="333.4" cy="162.3" r="1.15" fill="#777777"/>
<circle cx="339.1" cy="158.5" r="1.15" fill="#777777"/>
<circle cx="332.6" cy="157.8" r="1.15" fill="#777777"/>
<circle cx="339.2" cy="154.2" r="1.15" fill="#777777"/>
<circle cx="330.9" cy="159.0" r="1.15" fill="#777777"/>
<circle cx="332.5" cy="164.3" r="1.15" fill="#777777"/>
<circle cx="333.1" cy="151.6" r="1.15" fill="#777777"/>
<circle cx="339.1" cy="161.5" r="1.15" fill="#777777"/>
<circle cx="335.7" cy="162.3" r="1.15" fill="#777777"/>
<circle cx="336.3" cy="153.4" r="1.15" fill="#777777"/>
<circle cx="333.1" cy="165.8" r="1.15" fill="#777777"/>
<circle cx="337.0" cy="159.5" r="1.15" fill="#777777"/>
<circle cx="339.1" cy="159.1" r="1.15" fill="#777777"/>
<circle cx="334.3" cy="160.2" r="1.15" fill="#777777"/>
<circle cx="328.8" cy="156.5" r="1.15" fill="#777777"/>
<circle cx="329.1" cy="168.4" r="1.15" fill="#777777"/>
<circle cx="342.1" cy="162.1" r="1.15" fill="#777777"/>
<circle cx="330.9" cy="165.8" r="1.15" fill="#777777"/>
<circle cx="332.7" cy="164.9" r="1.15" fill="#777777"/>
<circle cx="338.3" cy="161.2" r="1.15" fill="#777777"/>
<circle cx="339.6" cy="154.9" r="1.15" fill="#777777"/>
<circle cx="341.0" cy="160.0" r="1.15" fill="#777777"/>
<circle cx="332.3" cy="157.6" r="1.15" fill="#777777"/>
<circle cx="333.9" cy="151.4" r="1.15" fill="#777777"/>
<circle cx="341.6" cy="162.7" r="1.15" fill="#777777"/>
<circle cx="335.8" cy="160.1" r="1.15" fill="#777777"/>
<circle cx="333.9" cy="162.7" r="1.15" fill="#777777"/>
<circle cx="336.5" cy="159.2" r="1.15" fill="#777777"/>
<circle cx="332.4" cy="154.1" r="1.15" fill="#777777"/>
<circle cx="338.6" cy="156.3" r="1.15" fill="#777777"/>
<circle cx="382.6" cy="163.0" r="1.15" fill="#777777"/>
<circle cx="383.0" cy="150.5" r="1.15" fill="#777777"/>
<circle cx="380.7" cy="152.3" r="1.15" fill="#777777"/>
<circle cx="373.0" cy="161.9" r="1.15" fill="#777777"/>
<circle cx="381.7" cy="146.4" r="1.15" fill="#777777"/>
<circle cx="382.8" cy="157.9" r="1.15" fill="#777777"/>
<circle cx="376.6" cy="153.5" r="1.15" fill="#777777"/>
<circle cx="379.0" cy="155.5" r="1.15" fill="#777777"/>
<circle cx="381.9" cy="162.9" r="1.15" fill="#777777"/>
<circle cx="380.9" cy="158.0" r="1.15" fill="#777777"/>
<circle cx="376.4" cy="154.5" r="1.15" fill="#777777"/>
<circle cx="383.0" cy="148.9" r="1.15" fill="#777777"/>
<circle cx="378.5" cy="159.8" r="1.15" fill="#777777"/>
<circle cx="374.1" cy="160.2" r="1.15" fill="#777777"/>
<circle cx="383.0" cy="161.5" r="1.15" fill="#777777"/>
<circle cx="381.0" cy="163.9" r="1.15" fill="#777777"/>
<circle cx="380.2" cy="156.0" r="1.15" fill="#777777"/>
<circle cx="381.4" cy="161.1" r="1.15" fill="#777777"/>
<circle cx="379.3" cy="158.4" r="1.15" fill="#777777"/>
<circle cx="375.9" cy="162.2" r="1.15" fill="#777777"/>
<circle cx="380.9" cy="150.8" r="1.15" fill="#777777"/>
<circle cx="383.2" cy="146.2" r="1.15" fill="#777777"/>
<circle cx="376.3" cy="152.8" r="1.15" fill="#777777"/>
<circle cx="381.7" cy="155.7" r="1.15" fill="#777777"/>
<circle cx="379.3" cy="153.8" r="1.15" fill="#777777"/>
<circle cx="375.4" cy="155.5" r="1.15" fill="#777777"/>
<circle cx="381.1" cy="153.6" r="1.15" fill="#777777"/>
<circle cx="373.9" cy="162.7" r="1.15" fill="#777777"/>
<circle cx="377.0" cy="160.1" r="1.15" fill="#777777"/>
<circle cx="377.1" cy="153.4" r="1.15" fill="#777777"/>
<circle cx="376.8" cy="155.4" r="1.15" fill="#777777"/>
<circle cx="378.4" cy="152.0" r="1.15" fill="#777777"/>
<circle cx="379.8" cy="152.3" r="1.15" fill="#777777"/>
<circle cx="382.5" cy="151.0" r="1.15" fill="#777777"/>
<circle cx="377.1" cy="151.3" r="1.15" fill="#777777"/>
<circle cx="378.2" cy="150.6" r="1.15" fill="#777777"/>
<circle cx="379.7" cy="153.2" r="1.15" fill="#777777"/>
<circle cx="380.1" cy="150.8" r="1.15" fill="#777777"/>
<circle cx="377.4" cy="156.1" r="1.15" fill="#777777"/>
<circle cx="380.2" cy="158.0" r="1.15" fill="#777777"/>
<circle cx="323.4" cy="176.4" r="1.15" fill="#777777"/>
<circle cx="320.9" cy="176.7" r="1.15" fill="#777777"/>
<circle cx="321.5" cy="176.9" r="1.15" fill="#777777"/>
<circle cx="325.3" cy="177.7" r="1.15" fill="#777777"/>
<circle cx="327.3" cy="177.2" r="1.15" fill="#777777"/>
<circle cx="387.5" cy="176.9" r="1.15" fill="#777777"/>
<circle cx="386.4" cy="179.4" r="1.15" fill="#777777"/>
<circle cx="390.8" cy="177.3" r="1.15" fill="#777777"/>
<circle cx="393.1" cy="179.4" r="1.15" fill="#777777"/>
<circle cx="389.3" cy="179.0" r="1.15" fill="#777777"/>
<circle cx="391.6" cy="178.2" r="1.15" fill="#777777"/>
<circle cx="385.9" cy="177.8" r="1.15" fill="#777777"/>
<circle cx="394.5" cy="177.9" r="1.15" fill="#777777"/>
<circle cx="383.3" cy="133.3" r="1.15" fill="#777777"/>
<circle cx="381.8" cy="138.4" r="1.15" fill="#777777"/>
<circle cx="380.8" cy="142.0" r="1.15" fill="#777777"/>
<circle cx="378.7" cy="147.1" r="1.15" fill="#777777"/>
<circle cx="380.5" cy="149.0" r="1.15" fill="#777777"/>
<circle cx="421.1" cy="176.8" r="1.15" fill="#777777"/>
<circle cx="415.0" cy="178.4" r="1.15" fill="#777777"/>
<circle cx="410.7" cy="179.0" r="1.15" fill="#777777"/>
<circle cx="406.3" cy="178.8" r="1.15" fill="#777777"/>
<circle cx="399.7" cy="179.0" r="1.15" fill="#777777"/>
<circle cx="395.9" cy="178.8" r="1.15" fill="#777777"/>
<circle cx="392.6" cy="178.4" r="1.15" fill="#777777"/>
<circle cx="281.9" cy="178.1" r="1.15" fill="#777777"/>
<circle cx="293.0" cy="178.5" r="1.15" fill="#777777"/>
<circle cx="300.0" cy="177.8" r="1.15" fill="#777777"/>
<circle cx="304.6" cy="178.9" r="1.15" fill="#777777"/>
<circle cx="306.0" cy="179.5" r="1.15" fill="#777777"/>
<circle cx="312.2" cy="178.0" r="1.15" fill="#777777"/>
<circle cx="316.0" cy="178.5" r="1.15" fill="#777777"/>
<circle cx="319.0" cy="178.8" r="1.15" fill="#777777"/>
<circle cx="322.0" cy="178.5" r="1.15" fill="#777777"/>
<circle cx="330.0" cy="151.0" r="1.15" fill="#777777"/>
<circle cx="333.0" cy="152.5" r="1.15" fill="#777777"/>
<circle cx="336.0" cy="154.0" r="1.15" fill="#777777"/>
<circle cx="338.0" cy="154.5" r="1.15" fill="#777777"/>
<circle cx="310.5" cy="125.0" r="1.2" fill="#2f5cf5"/>
<circle cx="309.6" cy="140.6" r="1.2" fill="#2f5cf5"/>
<circle cx="321.8" cy="148.2" r="1.2" fill="#2f5cf5"/>
<circle cx="325.6" cy="150.1" r="1.2" fill="#2f5cf5"/>
<circle cx="324.5" cy="154.4" r="1.2" fill="#2f5cf5"/>
<circle cx="326.0" cy="155.0" r="1.2" fill="#2f5cf5"/>
<circle cx="312.2" cy="158.1" r="1.2" fill="#2f5cf5"/>
<circle cx="321.2" cy="159.3" r="1.2" fill="#2f5cf5"/>
<circle cx="321.6" cy="163.1" r="1.2" fill="#2f5cf5"/>
<circle cx="325.1" cy="164.3" r="1.2" fill="#2f5cf5"/>
<circle cx="328.0" cy="167.0" r="1.2" fill="#2f5cf5"/>
<circle cx="326.8" cy="170.1" r="1.2" fill="#2f5cf5"/>
<circle cx="326.2" cy="171.9" r="1.2" fill="#2f5cf5"/>
<circle cx="310.1" cy="171.0" r="1.2" fill="#2f5cf5"/>
<circle cx="311.6" cy="173.6" r="1.2" fill="#2f5cf5"/>
<circle cx="299.1" cy="172.5" r="1.2" fill="#2f5cf5"/>
<circle cx="294.1" cy="174.8" r="1.2" fill="#2f5cf5"/>
<circle cx="299.1" cy="176.8" r="1.2" fill="#2f5cf5"/>
<circle cx="276.2" cy="176.0" r="1.2" fill="#2f5cf5"/>
<circle cx="319.8" cy="173.1" r="1.2" fill="#2f5cf5"/>
<circle cx="318.1" cy="175.4" r="1.2" fill="#2f5cf5"/>
<circle cx="321.6" cy="176.0" r="1.2" fill="#2f5cf5"/>
<circle cx="323.9" cy="176.6" r="1.2" fill="#2f5cf5"/>
<circle cx="316.3" cy="176.6" r="1.2" fill="#2f5cf5"/>
<circle cx="325.6" cy="176.6" r="1.2" fill="#2f5cf5"/>
<circle cx="322.5" cy="148.1" r="1.2" fill="#2f5cf5"/>
<circle cx="324.2" cy="154.2" r="1.2" fill="#2f5cf5"/>
<circle cx="414.3" cy="61.2" r="1.2" fill="#4dbb3c"/>
<circle cx="426.8" cy="64.2" r="1.2" fill="#4dbb3c"/>
<circle cx="414.8" cy="77.4" r="1.2" fill="#4dbb3c"/>
<circle cx="423.8" cy="79.6" r="1.2" fill="#4dbb3c"/>
<circle cx="448.8" cy="81.2" r="1.2" fill="#4dbb3c"/>
<circle cx="412.1" cy="125.0" r="1.2" fill="#4dbb3c"/>
<circle cx="384.9" cy="130.8" r="1.2" fill="#4dbb3c"/>
<circle cx="384.2" cy="136.8" r="1.2" fill="#4dbb3c"/>
<circle cx="400.8" cy="133.2" r="1.2" fill="#4dbb3c"/>
<circle cx="398.6" cy="136.8" r="1.2" fill="#4dbb3c"/>
<circle cx="402.7" cy="136.3" r="1.2" fill="#4dbb3c"/>
<circle cx="403.3" cy="145.0" r="1.2" fill="#4dbb3c"/>
<circle cx="387.4" cy="145.0" r="1.2" fill="#4dbb3c"/>
<circle cx="386.6" cy="147.2" r="1.2" fill="#4dbb3c"/>
<circle cx="395.1" cy="147.6" r="1.2" fill="#4dbb3c"/>
<circle cx="387.7" cy="149.4" r="1.2" fill="#4dbb3c"/>
<circle cx="391.8" cy="150.0" r="1.2" fill="#4dbb3c"/>
<circle cx="392.0" cy="151.1" r="1.2" fill="#4dbb3c"/>
<circle cx="385.5" cy="154.9" r="1.2" fill="#4dbb3c"/>
<circle cx="387.9" cy="154.3" r="1.2" fill="#4dbb3c"/>
<circle cx="393.4" cy="155.1" r="1.2" fill="#4dbb3c"/>
<circle cx="409.9" cy="155.8" r="1.2" fill="#4dbb3c"/>
<circle cx="416.7" cy="156.5" r="1.2" fill="#4dbb3c"/>
<circle cx="396.8" cy="158.5" r="1.2" fill="#4dbb3c"/>
<circle cx="384.4" cy="158.2" r="1.2" fill="#4dbb3c"/>
<circle cx="384.4" cy="160.9" r="1.2" fill="#4dbb3c"/>
<circle cx="388.2" cy="160.1" r="1.2" fill="#4dbb3c"/>
<circle cx="390.9" cy="161.5" r="1.2" fill="#4dbb3c"/>
<circle cx="388.8" cy="163.1" r="1.2" fill="#4dbb3c"/>
<circle cx="392.6" cy="163.4" r="1.2" fill="#4dbb3c"/>
<circle cx="384.9" cy="163.7" r="1.2" fill="#4dbb3c"/>
<circle cx="408.7" cy="163.1" r="1.2" fill="#4dbb3c"/>
<circle cx="387.7" cy="166.9" r="1.2" fill="#4dbb3c"/>
<circle cx="396.4" cy="167.5" r="1.2" fill="#4dbb3c"/>
<circle cx="406.8" cy="166.1" r="1.2" fill="#4dbb3c"/>
<circle cx="405.0" cy="168.3" r="1.2" fill="#4dbb3c"/>
<circle cx="407.9" cy="167.8" r="1.2" fill="#4dbb3c"/>
<circle cx="412.1" cy="168.6" r="1.2" fill="#4dbb3c"/>
<circle cx="387.1" cy="169.7" r="1.2" fill="#4dbb3c"/>
<circle cx="393.4" cy="171.5" r="1.2" fill="#4dbb3c"/>
<circle cx="403.5" cy="171.5" r="1.2" fill="#4dbb3c"/>
<circle cx="411.2" cy="171.3" r="1.2" fill="#4dbb3c"/>
<circle cx="389.3" cy="172.6" r="1.2" fill="#4dbb3c"/>
<circle cx="386.6" cy="173.3" r="1.2" fill="#4dbb3c"/>
<circle cx="405.7" cy="172.6" r="1.2" fill="#4dbb3c"/>
<circle cx="407.4" cy="173.3" r="1.2" fill="#4dbb3c"/>
<circle cx="384.9" cy="174.6" r="1.2" fill="#4dbb3c"/>
<circle cx="387.1" cy="175.1" r="1.2" fill="#4dbb3c"/>
<circle cx="390.9" cy="176.2" r="1.2" fill="#4dbb3c"/>
<circle cx="399.2" cy="175.5" r="1.2" fill="#4dbb3c"/>
<circle cx="399.5" cy="176.8" r="1.2" fill="#4dbb3c"/>
<circle cx="388.4" cy="149.6" r="1.2" fill="#4dbb3c"/>
<circle cx="391.5" cy="150.1" r="1.2" fill="#4dbb3c"/>
<circle cx="386.4" cy="147.1" r="1.2" fill="#4dbb3c"/>
<rect x="263.4" y="20.6" width="188.90000000000003" height="169.0" fill="none" stroke="#555" stroke-width="1"/>
<line x1="260.4" y1="181.7" x2="263.4" y2="181.7" stroke="#555" stroke-width="1"/>
<text x="259.09999999999997" y="184.5" font-size="9.6" text-anchor="end" fill="#111" stroke="#111" stroke-width="0.2">0</text>
<line x1="260.4" y1="143.35" x2="263.4" y2="143.35" stroke="#555" stroke-width="1"/>
<text x="259.09999999999997" y="146.15" font-size="9.6" text-anchor="end" fill="#111" stroke="#111" stroke-width="0.2">10</text>
<line x1="260.4" y1="104.99999999999999" x2="263.4" y2="104.99999999999999" stroke="#555" stroke-width="1"/>
<text x="259.09999999999997" y="107.79999999999998" font-size="9.6" text-anchor="end" fill="#111" stroke="#111" stroke-width="0.2">20</text>
<line x1="260.4" y1="66.64999999999999" x2="263.4" y2="66.64999999999999" stroke="#555" stroke-width="1"/>
<text x="259.09999999999997" y="69.44999999999999" font-size="9.6" text-anchor="end" fill="#111" stroke="#111" stroke-width="0.2">30</text>
<line x1="260.4" y1="28.299999999999983" x2="263.4" y2="28.299999999999983" stroke="#555" stroke-width="1"/>
<text x="259.09999999999997" y="31.099999999999984" font-size="9.6" text-anchor="end" fill="#111" stroke="#111" stroke-width="0.2">40</text>
<line x1="301.4" y1="189.6" x2="301.4" y2="192.1" stroke="#555" stroke-width="1"/>
<text x="301.4" y="202.2" font-size="9.6" text-anchor="middle" fill="#111" stroke="#111" stroke-width="0.2">-2</text>
<line x1="356.2" y1="189.6" x2="356.2" y2="192.1" stroke="#555" stroke-width="1"/>
<text x="356.2" y="202.2" font-size="9.6" text-anchor="middle" fill="#111" stroke="#111" stroke-width="0.2">0</text>
<line x1="411.0" y1="189.6" x2="411.0" y2="192.1" stroke="#555" stroke-width="1"/>
<text x="411.0" y="202.2" font-size="9.6" text-anchor="middle" fill="#111" stroke="#111" stroke-width="0.2">2</text>
<text x="358" y="215" font-size="8.6" text-anchor="middle" fill="#111" stroke="#111" stroke-width="0.2">log<tspan font-size="6" dy="2">2</tspan><tspan dy="-2">(FoldChange)</tspan></text>
<text x="243.3" y="105" font-size="8.5" text-anchor="middle" fill="#111" stroke="#111" stroke-width="0.2" transform="rotate(-90 243.3 105)">-log<tspan font-size="6" dy="2">10</tspan><tspan dy="-2">(p-value)</tspan></text>
<circle cx="267.7" cy="30.1" r="1.3" fill="#2f5cf5"/>
<text x="275.4" y="32.4" font-size="7" fill="#222" stroke="#222" stroke-width="0.2">Significant Down</text>
<circle cx="333.2" cy="30.1" r="1.0" fill="#777777"/>
<text x="340.8" y="32.4" font-size="7" fill="#222" stroke="#222" stroke-width="0.2">Not-Significant</text>
<circle cx="397.8" cy="30.1" r="1.3" fill="#4dbb3c"/>
<text x="405.6" y="32.4" font-size="7" fill="#222" stroke="#222" stroke-width="0.2">Significant Up</text>
<text x="270.1" y="98.9" font-size="8.3" fill="#3d6ee8" stroke="#3d6ee8" stroke-width="0.2">p&lt;0.05</text>
<text x="270.1" y="109.0" font-size="8.3" fill="#3d6ee8" stroke="#3d6ee8" stroke-width="0.2">log<tspan font-size="5.5" dy="2">2</tspan><tspan dy="-2">FC&lt;-1</tspan></text>
<text x="270.1" y="120.80000000000001" font-size="8.3" fill="#3d6ee8" stroke="#3d6ee8" stroke-width="0.2">Sig.: 38</text>
<text x="448.1" y="98.3" font-size="8.3" text-anchor="end" fill="#5cbf4a" stroke="#5cbf4a" stroke-width="0.2">p&lt;0.05</text>
<text x="448.1" y="108.39999999999999" font-size="8.3" text-anchor="end" fill="#5cbf4a" stroke="#5cbf4a" stroke-width="0.2">log<tspan font-size="5.5" dy="2">2</tspan><tspan dy="-2">FC&gt;1</tspan></text>
<text x="448.1" y="120.19999999999999" font-size="8.3" text-anchor="end" fill="#5cbf4a" stroke="#5cbf4a" stroke-width="0.2">Sig.: 71</text>
<text x="464.5" y="14.3" font-size="17.2" font-weight="bold" fill="#000">c</text>
<line x1="511.7" y1="24.3" x2="511.7" y2="182.1" stroke="#333" stroke-width="1"/>
<line x1="508.8" y1="182.1" x2="511.7" y2="182.1" stroke="#333" stroke-width="1"/>
<text x="507.3" y="185.29999999999998" font-size="9" text-anchor="end" fill="#111" stroke="#111" stroke-width="0.2">0</text>
<line x1="508.8" y1="142.75" x2="511.7" y2="142.75" stroke="#333" stroke-width="1"/>
<text x="507.3" y="145.95" font-size="9" text-anchor="end" fill="#111" stroke="#111" stroke-width="0.2">50</text>
<line x1="508.8" y1="103.39999999999999" x2="511.7" y2="103.39999999999999" stroke="#333" stroke-width="1"/>
<text x="507.3" y="106.6" font-size="9" text-anchor="end" fill="#111" stroke="#111" stroke-width="0.2">100</text>
<line x1="508.8" y1="64.04999999999998" x2="511.7" y2="64.04999999999998" stroke="#333" stroke-width="1"/>
<text x="507.3" y="67.24999999999999" font-size="9" text-anchor="end" fill="#111" stroke="#111" stroke-width="0.2">150</text>
<line x1="508.8" y1="24.69999999999999" x2="511.7" y2="24.69999999999999" stroke="#333" stroke-width="1"/>
<text x="507.3" y="27.899999999999988" font-size="9" text-anchor="end" fill="#111" stroke="#111" stroke-width="0.2">200</text>
<text x="489.3" y="104.7" font-size="9.05" text-anchor="middle" fill="#111" stroke="#111" stroke-width="0.2" transform="rotate(-90 489.3 104.7)">Differently expressed gene number</text>
<rect x="533.45" y="131.295" width="13.600000000000001" height="50.805" fill="url(#gG)" stroke="#3b7d3c" stroke-width="0.7"/>
<text x="540.25" y="129.245" font-size="8.9" text-anchor="middle" fill="#111" stroke="#111" stroke-width="0.2">65</text>
<rect x="547.75" y="135.23" width="13.600000000000001" height="46.87" fill="url(#gB)" stroke="#2a449a" stroke-width="0.7"/>
<text x="554.55" y="133.18" font-size="8.9" text-anchor="middle" fill="#111" stroke="#111" stroke-width="0.2">60</text>
<rect x="562.0500000000001" y="84.07499999999999" width="13.600000000000001" height="98.025" fill="url(#gO)" stroke="#7e3c14" stroke-width="0.7"/>
<text x="568.85" y="82.02499999999999" font-size="8.9" text-anchor="middle" fill="#111" stroke="#111" stroke-width="0.2">125</text>
<rect x="619.15" y="126.57299999999998" width="13.600000000000001" height="55.52700000000001" fill="url(#gG)" stroke="#3b7d3c" stroke-width="0.7"/>
<text x="625.9499999999999" y="124.52299999999998" font-size="8.9" text-anchor="middle" fill="#111" stroke="#111" stroke-width="0.2">71</text>
<rect x="633.35" y="152.54399999999998" width="13.600000000000001" height="29.556000000000004" fill="url(#gB)" stroke="#2a449a" stroke-width="0.7"/>
<text x="640.15" y="150.494" font-size="8.9" text-anchor="middle" fill="#111" stroke="#111" stroke-width="0.2">38</text>
<rect x="647.5500000000001" y="96.66699999999999" width="13.600000000000001" height="85.433" fill="url(#gO)" stroke="#7e3c14" stroke-width="0.7"/>
<text x="654.35" y="94.61699999999999" font-size="8.9" text-anchor="middle" fill="#111" stroke="#111" stroke-width="0.2">109</text>
<line x1="511.2" y1="182.1" x2="685" y2="182.1" stroke="#333" stroke-width="1"/>
<line x1="597.4" y1="182.1" x2="597.4" y2="183.9" stroke="#333" stroke-width="1"/>
<text x="554.4" y="194.0" font-size="8.44" text-anchor="middle" fill="#111" stroke="#111" stroke-width="0.2">4×MIC vs Control</text>
<text x="640.2" y="194.0" font-size="8.44" text-anchor="middle" fill="#111" stroke="#111" stroke-width="0.2">2×MIC vs Control</text>
<rect x="608.0" y="33.3" width="16.7" height="7.6" fill="url(#gG)" stroke="#3b7d3c" stroke-width="0.6"/>
<text x="627.1" y="39.9" font-size="7.9" fill="#111" stroke="#111" stroke-width="0.2">Up</text>
<rect x="608.0" y="42.8" width="16.7" height="7.6" fill="url(#gB)" stroke="#2a449a" stroke-width="0.6"/>
<text x="627.1" y="49.4" font-size="7.9" fill="#111" stroke="#111" stroke-width="0.2">Down</text>
<rect x="608.0" y="52.3" width="16.7" height="7.6" fill="url(#gO)" stroke="#7e3c14" stroke-width="0.6"/>
<text x="627.1" y="58.9" font-size="7.9" fill="#111" stroke="#111" stroke-width="0.2">Total</text>
<text x="0.5" y="234.3" font-size="17.2" font-weight="bold" fill="#000">d</text>
<rect x="16.3" y="233.6" width="40.6" height="13.19" fill="#f2cdd0"/>
<rect x="56.3" y="233.6" width="40.3" height="13.19" fill="#efb3b8"/>
<line x1="96.6" y1="239.94333333333333" x2="99.6" y2="239.94333333333333" stroke="#222" stroke-width="1"/>
<text x="100.7" y="243.34" font-size="10.9" fill="#111" stroke="#111" stroke-width="0.2">ABC transporter permease subunit</text>
<rect x="16.3" y="246.29" width="40.6" height="13.19" fill="#ec8a91"/>
<rect x="56.3" y="246.29" width="40.3" height="13.19" fill="#f2c4c7"/>
<line x1="96.6" y1="252.63" x2="99.6" y2="252.63" stroke="#222" stroke-width="1"/>
<text x="100.7" y="256.03" font-size="10.9" fill="#111" stroke="#111" stroke-width="0.2">ABC transporter substrate-binding protein</text>
<rect x="16.3" y="258.97" width="40.6" height="13.19" fill="#ec737b"/>
<rect x="56.3" y="258.97" width="40.3" height="13.19" fill="#ee848a"/>
<line x1="96.6" y1="265.3166666666667" x2="99.6" y2="265.3166666666667" stroke="#222" stroke-width="1"/>
<text x="100.7" y="268.72" font-size="10.9" fill="#111" stroke="#111" stroke-width="0.2">AEC family transporter</text>
<rect x="16.3" y="271.66" width="40.6" height="13.19" fill="#f1c3c6"/>
<rect x="56.3" y="271.66" width="40.3" height="13.19" fill="#eeb5b9"/>
<line x1="96.6" y1="278.00333333333333" x2="99.6" y2="278.00333333333333" stroke="#222" stroke-width="1"/>
<text x="100.7" y="281.4" font-size="10.9" fill="#111" stroke="#111" stroke-width="0.2">Aldehyde dehydrogenase family protein</text>
<rect x="16.3" y="284.35" width="40.6" height="13.19" fill="#efadb2"/>
<rect x="56.3" y="284.35" width="40.3" height="13.19" fill="#f2c4c7"/>
<line x1="96.6" y1="290.69000000000005" x2="99.6" y2="290.69000000000005" stroke="#222" stroke-width="1"/>
<text x="100.7" y="294.09" font-size="10.9" fill="#111" stroke="#111" stroke-width="0.2">Anion permease</text>
<rect x="16.3" y="297.03" width="40.6" height="13.19" fill="#f1c1c4"/>
<rect x="56.3" y="297.03" width="40.3" height="13.19" fill="#f2c5c8"/>
<line x1="96.6" y1="303.37666666666667" x2="99.6" y2="303.37666666666667" stroke="#222" stroke-width="1"/>
<text x="100.7" y="306.78" font-size="10.9" fill="#111" stroke="#111" stroke-width="0.2">Efflux RND transporter periplasmic adaptor subunit</text>
<rect x="16.3" y="309.72" width="40.6" height="13.19" fill="#f1c1c4"/>
<rect x="56.3" y="309.72" width="40.3" height="13.19" fill="#f2c4c7"/>
<line x1="96.6" y1="316.0633333333334" x2="99.6" y2="316.0633333333334" stroke="#222" stroke-width="1"/>
<text x="100.7" y="319.46" font-size="10.9" fill="#111" stroke="#111" stroke-width="0.2">Efflux RND transporter permease subunit</text>
<rect x="16.3" y="322.41" width="40.6" height="13.19" fill="#f1bec1"/>
<rect x="56.3" y="322.41" width="40.3" height="13.19" fill="#f0adb1"/>
<line x1="96.6" y1="328.75" x2="99.6" y2="328.75" stroke="#222" stroke-width="1"/>
<text x="100.7" y="332.15" font-size="10.9" fill="#111" stroke="#111" stroke-width="0.2">FMN-dependent L-lactate dehydrogenase LldD</text>
<rect x="16.3" y="335.09" width="40.6" height="13.19" fill="#efa5aa"/>
<rect x="56.3" y="335.09" width="40.3" height="13.19" fill="#f2c5c8"/>
<line x1="96.6" y1="341.4366666666667" x2="99.6" y2="341.4366666666667" stroke="#222" stroke-width="1"/>
<text x="100.7" y="344.84" font-size="10.9" fill="#111" stroke="#111" stroke-width="0.2">Iron ABC transporter permease</text>
<rect x="16.3" y="347.78" width="40.6" height="13.19" fill="#efabaf"/>
<rect x="56.3" y="347.78" width="40.3" height="13.19" fill="#ef9fa4"/>
<line x1="96.6" y1="354.12333333333333" x2="99.6" y2="354.12333333333333" stroke="#222" stroke-width="1"/>
<text x="100.7" y="357.52" font-size="10.9" fill="#111" stroke="#111" stroke-width="0.2">L-lactate permease</text>
<rect x="16.3" y="360.47" width="40.6" height="13.19" fill="#efabaf"/>
<rect x="56.3" y="360.47" width="40.3" height="13.19" fill="#ee9ba1"/>
<line x1="96.6" y1="366.81000000000006" x2="99.6" y2="366.81000000000006" stroke="#222" stroke-width="1"/>
<text x="100.7" y="370.21" font-size="10.9" fill="#111" stroke="#111" stroke-width="0.2">MFS transporter</text>
<rect x="16.3" y="373.15" width="40.6" height="13.19" fill="#ee9196"/>
<rect x="56.3" y="373.15" width="40.3" height="13.19" fill="#ee9196"/>
<line x1="96.6" y1="379.49666666666667" x2="99.6" y2="379.49666666666667" stroke="#222" stroke-width="1"/>
<text x="100.7" y="382.9" font-size="10.9" fill="#111" stroke="#111" stroke-width="0.2">NAD-dependent malic enzyme</text>
<rect x="16.3" y="385.84" width="40.6" height="13.19" fill="#efa5a9"/>
<rect x="56.3" y="385.84" width="40.3" height="13.19" fill="#efa3a7"/>
<line x1="96.6" y1="392.1833333333334" x2="99.6" y2="392.1833333333334" stroke="#222" stroke-width="1"/>
<text x="100.7" y="395.58" font-size="10.9" fill="#111" stroke="#111" stroke-width="0.2">Ribose ABC transporter permease</text>
<rect x="16.3" y="398.53" width="40.6" height="13.19" fill="#efa8ac"/>
<rect x="56.3" y="398.53" width="40.3" height="13.19" fill="#ee9397"/>
<line x1="96.6" y1="404.87" x2="99.6" y2="404.87" stroke="#222" stroke-width="1"/>
<text x="100.7" y="408.27" font-size="10.9" fill="#111" stroke="#111" stroke-width="0.2">Substrate-binding domain-containing protein</text>
<rect x="16.3" y="411.21" width="40.6" height="13.19" fill="#f1bcbf"/>
<rect x="56.3" y="411.21" width="40.3" height="13.19" fill="#f2c4c6"/>
<line x1="96.6" y1="417.55666666666673" x2="99.6" y2="417.55666666666673" stroke="#222" stroke-width="1"/>
<text x="100.7" y="420.96" font-size="10.9" fill="#111" stroke="#111" stroke-width="0.2">Sugar ABC transporter ATP-binding protein</text>
<rect x="16.3" y="423.9" width="40.6" height="13.19" fill="#f1bcbf"/>
<rect x="56.3" y="423.9" width="40.3" height="13.19" fill="#f2c6c8"/>
<line x1="96.6" y1="430.24333333333334" x2="99.6" y2="430.24333333333334" stroke="#222" stroke-width="1"/>
<text x="100.7" y="433.64" font-size="10.9" fill="#111" stroke="#111" stroke-width="0.2">Sulfurtransferase-like selenium metabolism protein YedF</text>
<rect x="16.3" y="436.59" width="40.6" height="13.19" fill="#efabaf"/>
<rect x="56.3" y="436.59" width="40.3" height="13.19" fill="#efa5a9"/>
<line x1="96.6" y1="442.93000000000006" x2="99.6" y2="442.93000000000006" stroke="#222" stroke-width="1"/>
<text x="100.7" y="446.33" font-size="10.9" fill="#111" stroke="#111" stroke-width="0.2">Transcriptional regulator LldR</text>
<rect x="16.3" y="449.27" width="40.6" height="13.19" fill="#f1bcbf"/>
<rect x="56.3" y="449.27" width="40.3" height="13.19" fill="#efa3a7"/>
<line x1="96.6" y1="455.6166666666667" x2="99.6" y2="455.6166666666667" stroke="#222" stroke-width="1"/>
<text x="100.7" y="459.02" font-size="10.9" fill="#111" stroke="#111" stroke-width="0.2">YfaZ family outer membrane protein</text>
<rect x="16.3" y="461.96" width="40.6" height="13.19" fill="#d4d6fc"/>
<rect x="56.3" y="461.96" width="40.3" height="13.19" fill="#d4d6fc"/>
<line x1="96.6" y1="468.3033333333334" x2="99.6" y2="468.3033333333334" stroke="#222" stroke-width="1"/>
<text x="100.7" y="471.7" font-size="10.9" fill="#111" stroke="#111" stroke-width="0.2">Anaerobic glycerol-3-phosphate dehydrogenase subunit GlpC</text>
<rect x="16.3" y="474.65" width="40.6" height="13.19" fill="#b0b1fb"/>
<rect x="56.3" y="474.65" width="40.3" height="13.19" fill="#cacbfc"/>
<line x1="96.6" y1="480.99" x2="99.6" y2="480.99" stroke="#222" stroke-width="1"/>
<text x="100.7" y="484.39" font-size="10.9" fill="#111" stroke="#111" stroke-width="0.2">Betaine-aldehyde dehydrogenase</text>
<rect x="16.3" y="487.33" width="40.6" height="13.19" fill="#a6a8fb"/>
<rect x="56.3" y="487.33" width="40.3" height="13.19" fill="#c1c3fb"/>
<line x1="96.6" y1="493.67666666666673" x2="99.6" y2="493.67666666666673" stroke="#222" stroke-width="1"/>
<text x="100.7" y="497.08" font-size="10.9" fill="#111" stroke="#111" stroke-width="0.2">Choline dehydrogenase</text>
<rect x="16.3" y="500.02" width="40.6" height="13.19" fill="#b0b2fb"/>
<rect x="56.3" y="500.02" width="40.3" height="13.19" fill="#cbccfc"/>
<line x1="96.6" y1="506.36333333333334" x2="99.6" y2="506.36333333333334" stroke="#222" stroke-width="1"/>
<text x="100.7" y="509.76" font-size="10.9" fill="#111" stroke="#111" stroke-width="0.2">CNNM family cation transport protein YoaE</text>
<rect x="16.3" y="512.71" width="40.6" height="13.19" fill="#a0a2fb"/>
<rect x="56.3" y="512.71" width="40.3" height="13.19" fill="#b6b8fb"/>
<line x1="96.6" y1="519.0500000000001" x2="99.6" y2="519.0500000000001" stroke="#222" stroke-width="1"/>
<text x="100.7" y="522.45" font-size="10.9" fill="#111" stroke="#111" stroke-width="0.2">Glycine betaine/L-proline ABC transporter ATP-binding protein ProV</text>
<rect x="16.3" y="525.39" width="40.6" height="13.19" fill="#9597fb"/>
<rect x="56.3" y="525.39" width="40.3" height="13.19" fill="#b6b8fb"/>
<line x1="96.6" y1="531.7366666666667" x2="99.6" y2="531.7366666666667" stroke="#222" stroke-width="1"/>
<text x="100.7" y="535.14" font-size="10.9" fill="#111" stroke="#111" stroke-width="0.2">Glycine betaine/L-proline ABC transporter permease ProW</text>
<rect x="16.3" y="538.08" width="40.6" height="13.19" fill="#9c9efb"/>
<rect x="56.3" y="538.08" width="40.3" height="13.19" fill="#b8bafb"/>
<line x1="96.6" y1="544.4233333333334" x2="99.6" y2="544.4233333333334" stroke="#222" stroke-width="1"/>
<text x="100.7" y="547.82" font-size="10.9" fill="#111" stroke="#111" stroke-width="0.2">Glycine betaine/L-proline ABC transporter substrate-binding protein ProX</text>
<rect x="16.3" y="550.77" width="40.6" height="13.19" fill="#c5c6fc"/>
<rect x="56.3" y="550.77" width="40.3" height="13.19" fill="#d0d1fc"/>
<line x1="96.6" y1="557.11" x2="99.6" y2="557.11" stroke="#222" stroke-width="1"/>
<text x="100.7" y="560.51" font-size="10.9" fill="#111" stroke="#111" stroke-width="0.2">LysR family transcriptional regulator</text>
<rect x="16.3" y="563.45" width="40.6" height="13.19" fill="#a0a2fb"/>
<rect x="56.3" y="563.45" width="40.3" height="13.19" fill="#b6b8fb"/>
<line x1="96.6" y1="569.7966666666667" x2="99.6" y2="569.7966666666667" stroke="#222" stroke-width="1"/>
<text x="100.7" y="573.2" font-size="10.9" fill="#111" stroke="#111" stroke-width="0.2">Na+/H+ antiporter NhaA</text>
<rect x="16.3" y="576.14" width="40.6" height="13.19" fill="#d2d3fc"/>
<rect x="56.3" y="576.14" width="40.3" height="13.19" fill="#d2d3fc"/>
<line x1="96.6" y1="582.4833333333333" x2="99.6" y2="582.4833333333333" stroke="#222" stroke-width="1"/>
<text x="100.7" y="585.88" font-size="10.9" fill="#111" stroke="#111" stroke-width="0.2">NUDIX domain-containing protein</text>
<rect x="16.3" y="588.83" width="40.6" height="13.19" fill="#a7a9fb"/>
<rect x="56.3" y="588.83" width="40.3" height="13.19" fill="#b7b9fb"/>
<line x1="96.6" y1="595.1700000000001" x2="99.6" y2="595.1700000000001" stroke="#222" stroke-width="1"/>
<text x="100.7" y="598.57" font-size="10.9" fill="#111" stroke="#111" stroke-width="0.2">Superoxide response transcriptional regulator SoxS</text>
<rect x="16.3" y="601.51" width="40.6" height="13.19" fill="#b5b7fb"/>
<rect x="56.3" y="601.51" width="40.3" height="13.19" fill="#cfd0fc"/>
<line x1="96.6" y1="607.8566666666667" x2="99.6" y2="607.8566666666667" stroke="#222" stroke-width="1"/>
<text x="100.7" y="611.26" font-size="10.9" fill="#111" stroke="#111" stroke-width="0.2">Transcriptional regulator BetI</text>
<rect x="16.3" y="233.6" width="80.3" height="380.6" fill="none" stroke="#222" stroke-width="1.2"/>
<line x1="36.3" y1="614.2" x2="36.3" y2="618.2" stroke="#222" stroke-width="1.1"/>
<line x1="76.3" y1="614.2" x2="76.3" y2="618.2" stroke="#222" stroke-width="1.1"/>
<text x="36.0" y="631.2" font-size="12.4" text-anchor="middle" fill="#111" stroke="#111" stroke-width="0.2">4×MIC</text>
<text x="76.2" y="631.2" font-size="12.4" text-anchor="middle" fill="#111" stroke="#111" stroke-width="0.2">2×MIC</text>
<rect x="363.1" y="594.4" width="94.09999999999997" height="12.100000000000023" fill="url(#gCB)" stroke="#111" stroke-width="1.1"/>
<text x="363.1" y="589.7" font-size="11" text-anchor="middle" fill="#111" stroke="#111" stroke-width="0.2">-4</text>
<line x1="386.625" y1="594.4" x2="386.625" y2="596.4" stroke="#111" stroke-width="1"/>
<line x1="386.625" y1="604.5" x2="386.625" y2="606.5" stroke="#111" stroke-width="1"/>
<text x="386.625" y="589.7" font-size="11" text-anchor="middle" fill="#111" stroke="#111" stroke-width="0.2">-2</text>
<line x1="410.15" y1="594.4" x2="410.15" y2="596.4" stroke="#111" stroke-width="1"/>
<line x1="410.15" y1="604.5" x2="410.15" y2="606.5" stroke="#111" stroke-width="1"/>
<text x="410.15" y="589.7" font-size="11" text-anchor="middle" fill="#111" stroke="#111" stroke-width="0.2">0</text>
<line x1="433.675" y1="594.4" x2="433.675" y2="596.4" stroke="#111" stroke-width="1"/>
<line x1="433.675" y1="604.5" x2="433.675" y2="606.5" stroke="#111" stroke-width="1"/>
<text x="433.675" y="589.7" font-size="11" text-anchor="middle" fill="#111" stroke="#111" stroke-width="0.2">2</text>
<text x="457.2" y="589.7" font-size="11" text-anchor="middle" fill="#111" stroke="#111" stroke-width="0.2">4</text>
<text x="410.0" y="618.4" font-size="10.9" text-anchor="middle" fill="#111" stroke="#111" stroke-width="0.2">Log<tspan font-size="7.8" dy="2">2</tspan><tspan dy="-2">FoldChange</tspan></text>
<text x="423.3" y="233.9" font-size="17.2" font-weight="bold" fill="#000">f</text>
<text x="580.3" y="239.5" font-size="10.8" text-anchor="middle" fill="#111" stroke="#111" stroke-width="0.2">KEGG Pathway Classification</text>
<line x1="482.6" y1="249.3" x2="482.6" y2="431.1" stroke="#333" stroke-width="1.2"/>
<line x1="478.20000000000005" y1="430.6" x2="482.6" y2="430.6" stroke="#333" stroke-width="1.1"/>
<text x="477.0" y="434.90000000000003" font-size="12" text-anchor="end" fill="#111" stroke="#111" stroke-width="0.2">0</text>
<line x1="478.20000000000005" y1="385.33000000000004" x2="482.6" y2="385.33000000000004" stroke="#333" stroke-width="1.1"/>
<text x="477.0" y="389.63000000000005" font-size="12" text-anchor="end" fill="#111" stroke="#111" stroke-width="0.2">10</text>
<line x1="478.20000000000005" y1="340.06" x2="482.6" y2="340.06" stroke="#333" stroke-width="1.1"/>
<text x="477.0" y="344.36" font-size="12" text-anchor="end" fill="#111" stroke="#111" stroke-width="0.2">20</text>
<line x1="478.20000000000005" y1="294.79" x2="482.6" y2="294.79" stroke="#333" stroke-width="1.1"/>
<text x="477.0" y="299.09000000000003" font-size="12" text-anchor="end" fill="#111" stroke="#111" stroke-width="0.2">30</text>
<line x1="478.20000000000005" y1="249.52" x2="482.6" y2="249.52" stroke="#333" stroke-width="1.1"/>
<text x="477.0" y="253.82000000000002" font-size="12" text-anchor="end" fill="#111" stroke="#111" stroke-width="0.2">40</text>
<text x="457.5" y="337.5" font-size="12" text-anchor="middle" fill="#111" stroke="#111" stroke-width="0.2" transform="rotate(-90 457.5 337.5)">Gene number</text>
<rect x="503.5" y="255.1" width="10.5" height="7.7" fill="#f0979e"/>
<text x="519.8" y="262.4" font-size="10.87" fill="#111" stroke="#111" stroke-width="0.2">4×MIC vs Control</text>
<rect x="503.5" y="273.1" width="10.5" height="8.4" fill="#8aaad7"/>
<text x="519.8" y="280.5" font-size="10.87" fill="#111" stroke="#111" stroke-width="0.2">2×MIC vs Control</text>
<rect x="484.0" y="389.86" width="7.8" height="40.74" fill="#f0979e"/>
<text x="487.9" y="385.66" font-size="9.4" text-anchor="middle" fill="#111" stroke="#111" stroke-width="0.2">9</text>
<rect x="492.2" y="380.8" width="7.8" height="49.8" fill="#8aaad7"/>
<text x="496.1" y="376.6" font-size="9.4" text-anchor="middle" fill="#111" stroke="#111" stroke-width="0.2">11</text>
<line x1="492.0" y1="430.6" x2="492.0" y2="435.20000000000005" stroke="#333" stroke-width="1"/>
<text x="496.5" y="435.6" font-size="12.4" text-anchor="end" fill="#111" stroke="#111" stroke-width="0.2" transform="rotate(-90 496.5 435.6)">Membrane transport</text>
<rect x="501.42" y="407.97" width="7.8" height="22.63" fill="#f0979e"/>
<text x="505.32" y="403.77" font-size="9.4" text-anchor="middle" fill="#111" stroke="#111" stroke-width="0.2">5</text>
<rect x="509.62" y="426.07" width="7.8" height="4.53" fill="#8aaad7"/>
<text x="513.52" y="421.87" font-size="9.4" text-anchor="middle" fill="#111" stroke="#111" stroke-width="0.2">1</text>
<line x1="509.42" y1="430.6" x2="509.42" y2="435.20000000000005" stroke="#333" stroke-width="1"/>
<text x="513.92" y="435.6" font-size="12.4" text-anchor="end" fill="#111" stroke="#111" stroke-width="0.2" transform="rotate(-90 513.92 435.6)">Signal transduction</text>
<rect x="518.84" y="426.07" width="7.8" height="4.53" fill="#f0979e"/>
<text x="522.74" y="421.87" font-size="9.4" text-anchor="middle" fill="#111" stroke="#111" stroke-width="0.2">1</text>
<line x1="526.84" y1="430.6" x2="526.84" y2="435.20000000000005" stroke="#333" stroke-width="1"/>
<text x="531.34" y="435.6" font-size="12.4" text-anchor="end" fill="#111" stroke="#111" stroke-width="0.2" transform="rotate(-90 531.34 435.6)">Folding, sorting and degradation</text>
<rect x="536.26" y="421.55" width="7.8" height="9.05" fill="#f0979e"/>
<text x="540.16" y="417.35" font-size="9.4" text-anchor="middle" fill="#111" stroke="#111" stroke-width="0.2">2</text>
<line x1="544.26" y1="430.6" x2="544.26" y2="435.20000000000005" stroke="#333" stroke-width="1"/>
<text x="548.76" y="435.6" font-size="12.4" text-anchor="end" fill="#111" stroke="#111" stroke-width="0.2" transform="rotate(-90 548.76 435.6)">Translation</text>
<rect x="553.68" y="426.07" width="7.8" height="4.53" fill="#f0979e"/>
<text x="557.58" y="421.87" font-size="9.4" text-anchor="middle" fill="#111" stroke="#111" stroke-width="0.2">1</text>
<rect x="561.88" y="426.07" width="7.8" height="4.53" fill="#8aaad7"/>
<text x="565.78" y="421.87" font-size="9.4" text-anchor="middle" fill="#111" stroke="#111" stroke-width="0.2">1</text>
<line x1="561.6800000000001" y1="430.6" x2="561.6800000000001" y2="435.20000000000005" stroke="#333" stroke-width="1"/>
<text x="566.18" y="435.6" font-size="12.4" text-anchor="end" fill="#111" stroke="#111" stroke-width="0.2" transform="rotate(-90 566.18 435.6)">Metabolism of cofactors and vitamins</text>
<rect x="571.1" y="426.07" width="7.8" height="4.53" fill="#f0979e"/>
<text x="575.0" y="421.87" font-size="9.4" text-anchor="middle" fill="#111" stroke="#111" stroke-width="0.2">1</text>
<line x1="579.1" y1="430.6" x2="579.1" y2="435.20000000000005" stroke="#333" stroke-width="1"/>
<text x="583.6" y="435.6" font-size="12.4" text-anchor="end" fill="#111" stroke="#111" stroke-width="0.2" transform="rotate(-90 583.6 435.6)">Glycan biosynthesis and metabolism</text>
<rect x="588.52" y="389.86" width="7.8" height="40.74" fill="#f0979e"/>
<text x="592.42" y="385.66" font-size="9.4" text-anchor="middle" fill="#111" stroke="#111" stroke-width="0.2">9</text>
<rect x="596.72" y="331.01" width="7.8" height="99.59" fill="#8aaad7"/>
<text x="600.62" y="326.81" font-size="9.4" text-anchor="middle" fill="#111" stroke="#111" stroke-width="0.2">22</text>
<line x1="596.52" y1="430.6" x2="596.52" y2="435.20000000000005" stroke="#333" stroke-width="1"/>
<text x="601.02" y="435.6" font-size="12.4" text-anchor="end" fill="#111" stroke="#111" stroke-width="0.2" transform="rotate(-90 601.02 435.6)">Amino acid metabolism</text>
<rect x="605.94" y="367.22" width="7.8" height="63.38" fill="#f0979e"/>
<text x="609.84" y="363.02" font-size="9.4" text-anchor="middle" fill="#111" stroke="#111" stroke-width="0.2">14</text>
<rect x="614.14" y="321.95" width="7.8" height="108.65" fill="#8aaad7"/>
<text x="618.04" y="317.75" font-size="9.4" text-anchor="middle" fill="#111" stroke="#111" stroke-width="0.2">24</text>
<line x1="613.94" y1="430.6" x2="613.94" y2="435.20000000000005" stroke="#333" stroke-width="1"/>
<text x="618.44" y="435.6" font-size="12.4" text-anchor="end" fill="#111" stroke="#111" stroke-width="0.2" transform="rotate(-90 618.44 435.6)">Carbohydrate metabolism</text>
<rect x="631.56" y="412.49" width="7.8" height="18.11" fill="#8aaad7"/>
<text x="635.46" y="408.29" font-size="9.4" text-anchor="middle" fill="#111" stroke="#111" stroke-width="0.2">4</text>
<line x1="631.36" y1="430.6" x2="631.36" y2="435.20000000000005" stroke="#333" stroke-width="1"/>
<text x="635.86" y="435.6" font-size="12.4" text-anchor="end" fill="#111" stroke="#111" stroke-width="0.2" transform="rotate(-90 635.86 435.6)">Energy metabolism</text>
<rect x="640.78" y="421.55" width="7.8" height="9.05" fill="#f0979e"/>
<text x="644.68" y="417.35" font-size="9.4" text-anchor="middle" fill="#111" stroke="#111" stroke-width="0.2">2</text>
<line x1="648.78" y1="430.6" x2="648.78" y2="435.20000000000005" stroke="#333" stroke-width="1"/>
<text x="653.28" y="435.6" font-size="12.4" text-anchor="end" fill="#111" stroke="#111" stroke-width="0.2" transform="rotate(-90 653.28 435.6)">Lipid metabolism</text>
<rect x="658.2" y="417.02" width="7.8" height="13.58" fill="#f0979e"/>
<text x="662.1" y="412.82" font-size="9.4" text-anchor="middle" fill="#111" stroke="#111" stroke-width="0.2">3</text>
<line x1="666.2" y1="430.6" x2="666.2" y2="435.20000000000005" stroke="#333" stroke-width="1"/>
<text x="670.7" y="435.6" font-size="12.4" text-anchor="end" fill="#111" stroke="#111" stroke-width="0.2" transform="rotate(-90 670.7 435.6)">Drug resistance: antimicrobial</text>
<line x1="482.0" y1="430.6" x2="679" y2="430.6" stroke="#333" stroke-width="1.2"/>
<text x="0.5" y="657.6" font-size="17.2" font-weight="bold" fill="#000">e</text>
<text x="444.8" y="653.2" font-size="12.3" text-anchor="middle" fill="#111" stroke="#111" stroke-width="0.2">Top 30 GO term</text>
<rect x="14.1" y="667.0" width="360.4" height="38.8" fill="#d8e8f9"/>
<rect x="14.1" y="705.8" width="360.4" height="114.3" fill="#f9eef0"/>
<rect x="14.1" y="820.1" width="360.4" height="38.6" fill="#e9f6eb"/>
<text x="21.0" y="698.0" font-size="10.57" fill="#2f58b4" stroke="#2f58b4" stroke-width="0.2">Biological process</text>
<text x="21.0" y="766.4" font-size="10.68" fill="#b02f36" stroke="#b02f36" stroke-width="0.2">Cellular&#160; component</text>
<text x="21.0" y="846.1" font-size="10.84" fill="#4a7a6c" stroke="#4a7a6c" stroke-width="0.2">Molecular function</text>
<text x="367.9" y="678.6" font-size="11.0" text-anchor="end" fill="#111" stroke="#111" stroke-width="0.2">Positive regulation of DNA-templated transcription initiation</text>
<line x1="369.8" y1="674.8" x2="374.5" y2="674.8" stroke="#222" stroke-width="1.1"/>
<rect x="375.0" y="675.4" width="5.16" height="7.6" fill="#f0979e"/>
<text x="381.76" y="682.0" font-size="8.5" fill="#111" stroke="#111" stroke-width="0.2">2</text>
<text x="367.9" y="697.96" font-size="11.0" text-anchor="end" fill="#111" stroke="#111" stroke-width="0.2">Cellular response to osmotic stress</text>
<line x1="369.8" y1="694.16" x2="374.5" y2="694.16" stroke="#222" stroke-width="1.1"/>
<rect x="375.0" y="686.16" width="5.16" height="7.5" fill="#8aaad7"/>
<rect x="375.0" y="694.76" width="7.99" height="7.6" fill="#f0979e"/>
<text x="381.76" y="692.56" font-size="8.5" fill="#111" stroke="#111" stroke-width="0.2">2</text>
<text x="384.59" y="701.36" font-size="8.5" fill="#111" stroke="#111" stroke-width="0.2">3</text>
<text x="367.9" y="717.32" font-size="11.0" text-anchor="end" fill="#111" stroke="#111" stroke-width="0.2">Outer membrane-bounded periplasmic space</text>
<line x1="369.8" y1="713.52" x2="374.5" y2="713.52" stroke="#222" stroke-width="1.1"/>
<rect x="375.0" y="714.12" width="7.99" height="7.6" fill="#f0979e"/>
<text x="384.59" y="720.72" font-size="8.5" fill="#111" stroke="#111" stroke-width="0.2">3</text>
<text x="367.9" y="736.68" font-size="11.0" text-anchor="end" fill="#111" stroke="#111" stroke-width="0.2">Pilus</text>
<line x1="369.8" y1="732.88" x2="374.5" y2="732.88" stroke="#222" stroke-width="1.1"/>
<rect x="375.0" y="724.88" width="2.33" height="7.5" fill="#8aaad7"/>
<rect x="375.0" y="733.48" width="2.33" height="7.6" fill="#f0979e"/>
<text x="378.93" y="731.28" font-size="8.5" fill="#111" stroke="#111" stroke-width="0.2">1</text>
<text x="378.93" y="740.08" font-size="8.5" fill="#111" stroke="#111" stroke-width="0.2">1</text>
<text x="367.9" y="756.04" font-size="11.0" text-anchor="end" fill="#111" stroke="#111" stroke-width="0.2">Ribonucleoprotein complex</text>
<line x1="369.8" y1="752.24" x2="374.5" y2="752.24" stroke="#222" stroke-width="1.1"/>
<rect x="375.0" y="744.24" width="5.16" height="7.5" fill="#8aaad7"/>
<rect x="375.0" y="752.84" width="5.16" height="7.6" fill="#f0979e"/>
<text x="381.76" y="750.64" font-size="8.5" fill="#111" stroke="#111" stroke-width="0.2">2</text>
<text x="381.76" y="759.44" font-size="8.5" fill="#111" stroke="#111" stroke-width="0.2">2</text>
<text x="367.9" y="775.4" font-size="11.0" text-anchor="end" fill="#111" stroke="#111" stroke-width="0.2">Formate dehydrogenase complex</text>
<line x1="369.8" y1="771.5999999999999" x2="374.5" y2="771.5999999999999" stroke="#222" stroke-width="1.1"/>
<rect x="375.0" y="763.6" width="2.33" height="7.5" fill="#8aaad7"/>
<rect x="375.0" y="772.2" width="2.33" height="7.6" fill="#f0979e"/>
<text x="378.93" y="770.0" font-size="8.5" fill="#111" stroke="#111" stroke-width="0.2">1</text>
<text x="378.93" y="778.8" font-size="8.5" fill="#111" stroke="#111" stroke-width="0.2">1</text>
<text x="367.9" y="794.76" font-size="11.0" text-anchor="end" fill="#111" stroke="#111" stroke-width="0.2">ATP-binding cassette (ABC) transporter complex</text>
<line x1="369.8" y1="790.9599999999999" x2="374.5" y2="790.9599999999999" stroke="#222" stroke-width="1.1"/>
<rect x="375.0" y="782.96" width="5.16" height="7.5" fill="#8aaad7"/>
<rect x="375.0" y="791.56" width="10.82" height="7.6" fill="#f0979e"/>
<text x="381.76" y="789.36" font-size="8.5" fill="#111" stroke="#111" stroke-width="0.2">2</text>
<text x="387.42" y="798.16" font-size="8.5" fill="#111" stroke="#111" stroke-width="0.2">4</text>
<text x="367.9" y="814.12" font-size="11.0" text-anchor="end" fill="#111" stroke="#111" stroke-width="0.2">Plasma membrane</text>
<line x1="369.8" y1="810.3199999999999" x2="374.5" y2="810.3199999999999" stroke="#222" stroke-width="1.1"/>
<rect x="375.0" y="802.32" width="67.4" height="7.5" fill="#8aaad7"/>
<rect x="375.0" y="810.92" width="126.81" height="7.6" fill="#f0979e"/>
<text x="444.0" y="808.72" font-size="8.5" fill="#111" stroke="#111" stroke-width="0.2">24</text>
<text x="503.41" y="817.52" font-size="8.5" fill="#111" stroke="#111" stroke-width="0.2">45</text>
<text x="367.9" y="833.48" font-size="11.0" text-anchor="end" fill="#111" stroke="#111" stroke-width="0.2">NADP binding</text>
<line x1="369.8" y1="829.68" x2="374.5" y2="829.68" stroke="#222" stroke-width="1.1"/>
<rect x="375.0" y="821.68" width="7.99" height="7.5" fill="#8aaad7"/>
<text x="384.59" y="828.08" font-size="8.5" fill="#111" stroke="#111" stroke-width="0.2">3</text>
<text x="376.1" y="836.88" font-size="8.5" fill="#111" stroke="#111" stroke-width="0.2">0</text>
<text x="367.9" y="852.84" font-size="11.0" text-anchor="end" fill="#111" stroke="#111" stroke-width="0.2">Transmembrane transporter activity</text>
<line x1="369.8" y1="849.04" x2="374.5" y2="849.04" stroke="#222" stroke-width="1.1"/>
<rect x="375.0" y="841.04" width="30.62" height="7.5" fill="#8aaad7"/>
<rect x="375.0" y="849.64" width="41.94" height="7.6" fill="#f0979e"/>
<text x="407.22" y="847.44" font-size="8.5" fill="#111" stroke="#111" stroke-width="0.2">11</text>
<text x="418.54" y="856.24" font-size="8.5" fill="#111" stroke="#111" stroke-width="0.2">15</text>
<line x1="374.5" y1="661.2" x2="374.5" y2="859.2" stroke="#222" stroke-width="1.2"/>
<line x1="373.9" y1="858.6" x2="516.3" y2="858.6" stroke="#222" stroke-width="1.2"/>
<line x1="374.5" y1="858.6" x2="374.5" y2="863.6" stroke="#222" stroke-width="1.1"/>
<text x="374.5" y="873.5" font-size="10.5" text-anchor="middle" fill="#111" stroke="#111" stroke-width="0.2">0</text>
<line x1="388.645" y1="858.6" x2="388.645" y2="861.2" stroke="#222" stroke-width="1.1"/>
<line x1="402.79" y1="858.6" x2="402.79" y2="863.6" stroke="#222" stroke-width="1.1"/>
<text x="402.79" y="873.5" font-size="10.5" text-anchor="middle" fill="#111" stroke="#111" stroke-width="0.2">10</text>
<line x1="416.935" y1="858.6" x2="416.935" y2="861.2" stroke="#222" stroke-width="1.1"/>
<line x1="431.08" y1="858.6" x2="431.08" y2="863.6" stroke="#222" stroke-width="1.1"/>
<text x="431.08" y="873.5" font-size="10.5" text-anchor="middle" fill="#111" stroke="#111" stroke-width="0.2">20</text>
<line x1="445.225" y1="858.6" x2="445.225" y2="861.2" stroke="#222" stroke-width="1.1"/>
<line x1="459.37" y1="858.6" x2="459.37" y2="863.6" stroke="#222" stroke-width="1.1"/>
<text x="459.37" y="873.5" font-size="10.5" text-anchor="middle" fill="#111" stroke="#111" stroke-width="0.2">30</text>
<line x1="473.515" y1="858.6" x2="473.515" y2="861.2" stroke="#222" stroke-width="1.1"/>
<line x1="487.66" y1="858.6" x2="487.66" y2="863.6" stroke="#222" stroke-width="1.1"/>
<text x="487.66" y="873.5" font-size="10.5" text-anchor="middle" fill="#111" stroke="#111" stroke-width="0.2">40</text>
<line x1="501.805" y1="858.6" x2="501.805" y2="861.2" stroke="#222" stroke-width="1.1"/>
<line x1="515.95" y1="858.6" x2="515.95" y2="863.6" stroke="#222" stroke-width="1.1"/>
<text x="515.95" y="873.5" font-size="10.5" text-anchor="middle" fill="#111" stroke="#111" stroke-width="0.2">50</text>
<text x="445.1" y="888.0" font-size="12.2" text-anchor="middle" fill="#111" stroke="#111" stroke-width="0.2">Gene number</text>
<rect x="417.9" y="670.5" width="10.9" height="8.7" fill="#f0979e"/>
<text x="434.0" y="678.5" font-size="10.9" fill="#111" stroke="#111" stroke-width="0.2">4×MIC vs Control</text>
<rect x="417.9" y="685.4" width="10.9" height="7.9" fill="#8aaad7"/>
<text x="434.0" y="692.6" font-size="10.9" fill="#111" stroke="#111" stroke-width="0.2">2×MIC vs Control</text>
</g>
</svg>
</body></html>
